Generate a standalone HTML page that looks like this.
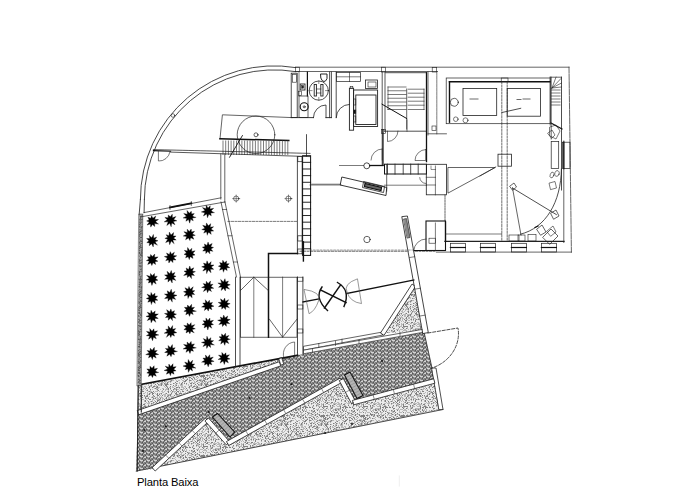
<!DOCTYPE html><html><head><meta charset="utf-8"><style>html,body{margin:0;padding:0;background:#fff;width:700px;height:500px;overflow:hidden}svg{display:block}.t{font-family:"Liberation Sans",sans-serif;font-size:11.2px;letter-spacing:-0.12px;fill:#000}</style></head><body>
<svg width="700" height="500" viewBox="0 0 700 500">
<defs><pattern id="stip" width="40" height="40" patternUnits="userSpaceOnUse"><rect width="40" height="40" fill="#ececec"/><rect x="0" y="0" width="1" height="1" fill="#b8b8b8"/><rect x="2" y="0" width="1" height="1" fill="#b8b8b8"/><rect x="5" y="0" width="1" height="1" fill="#808080"/><rect x="6" y="0" width="1" height="1" fill="#808080"/><rect x="8" y="0" width="1" height="1" fill="#b8b8b8"/><rect x="9" y="0" width="1" height="1" fill="#b8b8b8"/><rect x="11" y="0" width="1" height="1" fill="#b8b8b8"/><rect x="13" y="0" width="1" height="1" fill="#b8b8b8"/><rect x="15" y="0" width="1" height="1" fill="#808080"/><rect x="21" y="0" width="1" height="1" fill="#808080"/><rect x="24" y="0" width="1" height="1" fill="#b8b8b8"/><rect x="25" y="0" width="1" height="1" fill="#808080"/><rect x="27" y="0" width="1" height="1" fill="#b8b8b8"/><rect x="32" y="0" width="1" height="1" fill="#b8b8b8"/><rect x="34" y="0" width="1" height="1" fill="#b8b8b8"/><rect x="37" y="0" width="1" height="1" fill="#808080"/><rect x="38" y="0" width="1" height="1" fill="#808080"/><rect x="39" y="0" width="1" height="1" fill="#b8b8b8"/><rect x="1" y="1" width="1" height="1" fill="#b8b8b8"/><rect x="3" y="1" width="1" height="1" fill="#b8b8b8"/><rect x="5" y="1" width="1" height="1" fill="#b8b8b8"/><rect x="6" y="1" width="1" height="1" fill="#b8b8b8"/><rect x="15" y="1" width="1" height="1" fill="#808080"/><rect x="21" y="1" width="1" height="1" fill="#b8b8b8"/><rect x="24" y="1" width="1" height="1" fill="#b8b8b8"/><rect x="25" y="1" width="1" height="1" fill="#808080"/><rect x="28" y="1" width="1" height="1" fill="#808080"/><rect x="30" y="1" width="1" height="1" fill="#b8b8b8"/><rect x="31" y="1" width="1" height="1" fill="#808080"/><rect x="32" y="1" width="1" height="1" fill="#b8b8b8"/><rect x="35" y="1" width="1" height="1" fill="#808080"/><rect x="37" y="1" width="1" height="1" fill="#808080"/><rect x="39" y="1" width="1" height="1" fill="#b8b8b8"/><rect x="4" y="2" width="1" height="1" fill="#b8b8b8"/><rect x="5" y="2" width="1" height="1" fill="#808080"/><rect x="7" y="2" width="1" height="1" fill="#808080"/><rect x="8" y="2" width="1" height="1" fill="#b8b8b8"/><rect x="9" y="2" width="1" height="1" fill="#b8b8b8"/><rect x="11" y="2" width="1" height="1" fill="#808080"/><rect x="12" y="2" width="1" height="1" fill="#808080"/><rect x="14" y="2" width="1" height="1" fill="#b8b8b8"/><rect x="17" y="2" width="1" height="1" fill="#b8b8b8"/><rect x="18" y="2" width="1" height="1" fill="#b8b8b8"/><rect x="26" y="2" width="1" height="1" fill="#b8b8b8"/><rect x="28" y="2" width="1" height="1" fill="#b8b8b8"/><rect x="29" y="2" width="1" height="1" fill="#b8b8b8"/><rect x="33" y="2" width="1" height="1" fill="#808080"/><rect x="34" y="2" width="1" height="1" fill="#b8b8b8"/><rect x="36" y="2" width="1" height="1" fill="#808080"/><rect x="39" y="2" width="1" height="1" fill="#808080"/><rect x="1" y="3" width="1" height="1" fill="#b8b8b8"/><rect x="3" y="3" width="1" height="1" fill="#b8b8b8"/><rect x="6" y="3" width="1" height="1" fill="#808080"/><rect x="7" y="3" width="1" height="1" fill="#808080"/><rect x="10" y="3" width="1" height="1" fill="#b8b8b8"/><rect x="11" y="3" width="1" height="1" fill="#b8b8b8"/><rect x="13" y="3" width="1" height="1" fill="#b8b8b8"/><rect x="14" y="3" width="1" height="1" fill="#b8b8b8"/><rect x="15" y="3" width="1" height="1" fill="#b8b8b8"/><rect x="16" y="3" width="1" height="1" fill="#b8b8b8"/><rect x="18" y="3" width="1" height="1" fill="#b8b8b8"/><rect x="19" y="3" width="1" height="1" fill="#b8b8b8"/><rect x="21" y="3" width="1" height="1" fill="#808080"/><rect x="24" y="3" width="1" height="1" fill="#b8b8b8"/><rect x="25" y="3" width="1" height="1" fill="#b8b8b8"/><rect x="27" y="3" width="1" height="1" fill="#b8b8b8"/><rect x="28" y="3" width="1" height="1" fill="#b8b8b8"/><rect x="29" y="3" width="1" height="1" fill="#b8b8b8"/><rect x="31" y="3" width="1" height="1" fill="#808080"/><rect x="32" y="3" width="1" height="1" fill="#b8b8b8"/><rect x="33" y="3" width="1" height="1" fill="#b8b8b8"/><rect x="35" y="3" width="1" height="1" fill="#b8b8b8"/><rect x="37" y="3" width="1" height="1" fill="#808080"/><rect x="38" y="3" width="1" height="1" fill="#b8b8b8"/><rect x="1" y="4" width="1" height="1" fill="#b8b8b8"/><rect x="2" y="4" width="1" height="1" fill="#b8b8b8"/><rect x="3" y="4" width="1" height="1" fill="#808080"/><rect x="5" y="4" width="1" height="1" fill="#b8b8b8"/><rect x="8" y="4" width="1" height="1" fill="#b8b8b8"/><rect x="9" y="4" width="1" height="1" fill="#b8b8b8"/><rect x="13" y="4" width="1" height="1" fill="#b8b8b8"/><rect x="14" y="4" width="1" height="1" fill="#808080"/><rect x="15" y="4" width="1" height="1" fill="#b8b8b8"/><rect x="17" y="4" width="1" height="1" fill="#b8b8b8"/><rect x="18" y="4" width="1" height="1" fill="#b8b8b8"/><rect x="19" y="4" width="1" height="1" fill="#b8b8b8"/><rect x="20" y="4" width="1" height="1" fill="#b8b8b8"/><rect x="21" y="4" width="1" height="1" fill="#b8b8b8"/><rect x="23" y="4" width="1" height="1" fill="#808080"/><rect x="24" y="4" width="1" height="1" fill="#808080"/><rect x="28" y="4" width="1" height="1" fill="#b8b8b8"/><rect x="31" y="4" width="1" height="1" fill="#b8b8b8"/><rect x="36" y="4" width="1" height="1" fill="#b8b8b8"/><rect x="37" y="4" width="1" height="1" fill="#b8b8b8"/><rect x="38" y="4" width="1" height="1" fill="#b8b8b8"/><rect x="39" y="4" width="1" height="1" fill="#808080"/><rect x="1" y="5" width="1" height="1" fill="#b8b8b8"/><rect x="3" y="5" width="1" height="1" fill="#808080"/><rect x="10" y="5" width="1" height="1" fill="#808080"/><rect x="12" y="5" width="1" height="1" fill="#808080"/><rect x="13" y="5" width="1" height="1" fill="#b8b8b8"/><rect x="16" y="5" width="1" height="1" fill="#b8b8b8"/><rect x="19" y="5" width="1" height="1" fill="#b8b8b8"/><rect x="20" y="5" width="1" height="1" fill="#b8b8b8"/><rect x="22" y="5" width="1" height="1" fill="#b8b8b8"/><rect x="24" y="5" width="1" height="1" fill="#b8b8b8"/><rect x="25" y="5" width="1" height="1" fill="#b8b8b8"/><rect x="28" y="5" width="1" height="1" fill="#808080"/><rect x="33" y="5" width="1" height="1" fill="#808080"/><rect x="36" y="5" width="1" height="1" fill="#808080"/><rect x="37" y="5" width="1" height="1" fill="#b8b8b8"/><rect x="38" y="5" width="1" height="1" fill="#b8b8b8"/><rect x="0" y="6" width="1" height="1" fill="#b8b8b8"/><rect x="1" y="6" width="1" height="1" fill="#b8b8b8"/><rect x="3" y="6" width="1" height="1" fill="#808080"/><rect x="4" y="6" width="1" height="1" fill="#808080"/><rect x="5" y="6" width="1" height="1" fill="#808080"/><rect x="6" y="6" width="1" height="1" fill="#808080"/><rect x="7" y="6" width="1" height="1" fill="#808080"/><rect x="10" y="6" width="1" height="1" fill="#808080"/><rect x="12" y="6" width="1" height="1" fill="#b8b8b8"/><rect x="13" y="6" width="1" height="1" fill="#b8b8b8"/><rect x="14" y="6" width="1" height="1" fill="#b8b8b8"/><rect x="17" y="6" width="1" height="1" fill="#b8b8b8"/><rect x="18" y="6" width="1" height="1" fill="#b8b8b8"/><rect x="19" y="6" width="1" height="1" fill="#b8b8b8"/><rect x="20" y="6" width="1" height="1" fill="#808080"/><rect x="23" y="6" width="1" height="1" fill="#b8b8b8"/><rect x="24" y="6" width="1" height="1" fill="#808080"/><rect x="25" y="6" width="1" height="1" fill="#808080"/><rect x="26" y="6" width="1" height="1" fill="#b8b8b8"/><rect x="29" y="6" width="1" height="1" fill="#b8b8b8"/><rect x="32" y="6" width="1" height="1" fill="#b8b8b8"/><rect x="33" y="6" width="1" height="1" fill="#b8b8b8"/><rect x="36" y="6" width="1" height="1" fill="#b8b8b8"/><rect x="38" y="6" width="1" height="1" fill="#b8b8b8"/><rect x="39" y="6" width="1" height="1" fill="#b8b8b8"/><rect x="2" y="7" width="1" height="1" fill="#808080"/><rect x="3" y="7" width="1" height="1" fill="#b8b8b8"/><rect x="4" y="7" width="1" height="1" fill="#b8b8b8"/><rect x="7" y="7" width="1" height="1" fill="#b8b8b8"/><rect x="10" y="7" width="1" height="1" fill="#b8b8b8"/><rect x="11" y="7" width="1" height="1" fill="#b8b8b8"/><rect x="12" y="7" width="1" height="1" fill="#808080"/><rect x="20" y="7" width="1" height="1" fill="#808080"/><rect x="22" y="7" width="1" height="1" fill="#808080"/><rect x="23" y="7" width="1" height="1" fill="#808080"/><rect x="25" y="7" width="1" height="1" fill="#808080"/><rect x="26" y="7" width="1" height="1" fill="#808080"/><rect x="27" y="7" width="1" height="1" fill="#808080"/><rect x="29" y="7" width="1" height="1" fill="#808080"/><rect x="30" y="7" width="1" height="1" fill="#808080"/><rect x="32" y="7" width="1" height="1" fill="#808080"/><rect x="39" y="7" width="1" height="1" fill="#808080"/><rect x="3" y="8" width="1" height="1" fill="#808080"/><rect x="6" y="8" width="1" height="1" fill="#808080"/><rect x="7" y="8" width="1" height="1" fill="#b8b8b8"/><rect x="10" y="8" width="1" height="1" fill="#b8b8b8"/><rect x="11" y="8" width="1" height="1" fill="#808080"/><rect x="12" y="8" width="1" height="1" fill="#b8b8b8"/><rect x="15" y="8" width="1" height="1" fill="#b8b8b8"/><rect x="16" y="8" width="1" height="1" fill="#b8b8b8"/><rect x="17" y="8" width="1" height="1" fill="#b8b8b8"/><rect x="18" y="8" width="1" height="1" fill="#b8b8b8"/><rect x="19" y="8" width="1" height="1" fill="#b8b8b8"/><rect x="20" y="8" width="1" height="1" fill="#808080"/><rect x="23" y="8" width="1" height="1" fill="#b8b8b8"/><rect x="25" y="8" width="1" height="1" fill="#808080"/><rect x="33" y="8" width="1" height="1" fill="#808080"/><rect x="34" y="8" width="1" height="1" fill="#808080"/><rect x="38" y="8" width="1" height="1" fill="#b8b8b8"/><rect x="0" y="9" width="1" height="1" fill="#b8b8b8"/><rect x="1" y="9" width="1" height="1" fill="#b8b8b8"/><rect x="2" y="9" width="1" height="1" fill="#b8b8b8"/><rect x="4" y="9" width="1" height="1" fill="#b8b8b8"/><rect x="5" y="9" width="1" height="1" fill="#b8b8b8"/><rect x="8" y="9" width="1" height="1" fill="#b8b8b8"/><rect x="10" y="9" width="1" height="1" fill="#b8b8b8"/><rect x="13" y="9" width="1" height="1" fill="#b8b8b8"/><rect x="14" y="9" width="1" height="1" fill="#b8b8b8"/><rect x="15" y="9" width="1" height="1" fill="#808080"/><rect x="16" y="9" width="1" height="1" fill="#b8b8b8"/><rect x="17" y="9" width="1" height="1" fill="#b8b8b8"/><rect x="18" y="9" width="1" height="1" fill="#808080"/><rect x="19" y="9" width="1" height="1" fill="#b8b8b8"/><rect x="20" y="9" width="1" height="1" fill="#b8b8b8"/><rect x="22" y="9" width="1" height="1" fill="#808080"/><rect x="24" y="9" width="1" height="1" fill="#b8b8b8"/><rect x="26" y="9" width="1" height="1" fill="#b8b8b8"/><rect x="33" y="9" width="1" height="1" fill="#b8b8b8"/><rect x="36" y="9" width="1" height="1" fill="#b8b8b8"/><rect x="37" y="9" width="1" height="1" fill="#b8b8b8"/><rect x="38" y="9" width="1" height="1" fill="#b8b8b8"/><rect x="3" y="10" width="1" height="1" fill="#b8b8b8"/><rect x="4" y="10" width="1" height="1" fill="#b8b8b8"/><rect x="5" y="10" width="1" height="1" fill="#b8b8b8"/><rect x="6" y="10" width="1" height="1" fill="#b8b8b8"/><rect x="10" y="10" width="1" height="1" fill="#b8b8b8"/><rect x="12" y="10" width="1" height="1" fill="#b8b8b8"/><rect x="13" y="10" width="1" height="1" fill="#b8b8b8"/><rect x="15" y="10" width="1" height="1" fill="#808080"/><rect x="16" y="10" width="1" height="1" fill="#808080"/><rect x="18" y="10" width="1" height="1" fill="#b8b8b8"/><rect x="19" y="10" width="1" height="1" fill="#b8b8b8"/><rect x="22" y="10" width="1" height="1" fill="#808080"/><rect x="23" y="10" width="1" height="1" fill="#b8b8b8"/><rect x="24" y="10" width="1" height="1" fill="#b8b8b8"/><rect x="26" y="10" width="1" height="1" fill="#b8b8b8"/><rect x="29" y="10" width="1" height="1" fill="#b8b8b8"/><rect x="31" y="10" width="1" height="1" fill="#808080"/><rect x="32" y="10" width="1" height="1" fill="#b8b8b8"/><rect x="34" y="10" width="1" height="1" fill="#808080"/><rect x="37" y="10" width="1" height="1" fill="#808080"/><rect x="39" y="10" width="1" height="1" fill="#b8b8b8"/><rect x="2" y="11" width="1" height="1" fill="#b8b8b8"/><rect x="6" y="11" width="1" height="1" fill="#b8b8b8"/><rect x="11" y="11" width="1" height="1" fill="#808080"/><rect x="13" y="11" width="1" height="1" fill="#b8b8b8"/><rect x="17" y="11" width="1" height="1" fill="#b8b8b8"/><rect x="20" y="11" width="1" height="1" fill="#808080"/><rect x="23" y="11" width="1" height="1" fill="#808080"/><rect x="25" y="11" width="1" height="1" fill="#808080"/><rect x="26" y="11" width="1" height="1" fill="#b8b8b8"/><rect x="31" y="11" width="1" height="1" fill="#b8b8b8"/><rect x="32" y="11" width="1" height="1" fill="#b8b8b8"/><rect x="33" y="11" width="1" height="1" fill="#808080"/><rect x="34" y="11" width="1" height="1" fill="#808080"/><rect x="39" y="11" width="1" height="1" fill="#b8b8b8"/><rect x="0" y="12" width="1" height="1" fill="#b8b8b8"/><rect x="1" y="12" width="1" height="1" fill="#b8b8b8"/><rect x="3" y="12" width="1" height="1" fill="#808080"/><rect x="5" y="12" width="1" height="1" fill="#b8b8b8"/><rect x="7" y="12" width="1" height="1" fill="#b8b8b8"/><rect x="8" y="12" width="1" height="1" fill="#b8b8b8"/><rect x="9" y="12" width="1" height="1" fill="#b8b8b8"/><rect x="12" y="12" width="1" height="1" fill="#b8b8b8"/><rect x="14" y="12" width="1" height="1" fill="#808080"/><rect x="15" y="12" width="1" height="1" fill="#b8b8b8"/><rect x="16" y="12" width="1" height="1" fill="#808080"/><rect x="17" y="12" width="1" height="1" fill="#808080"/><rect x="20" y="12" width="1" height="1" fill="#b8b8b8"/><rect x="21" y="12" width="1" height="1" fill="#b8b8b8"/><rect x="22" y="12" width="1" height="1" fill="#b8b8b8"/><rect x="27" y="12" width="1" height="1" fill="#808080"/><rect x="28" y="12" width="1" height="1" fill="#b8b8b8"/><rect x="29" y="12" width="1" height="1" fill="#b8b8b8"/><rect x="32" y="12" width="1" height="1" fill="#b8b8b8"/><rect x="33" y="12" width="1" height="1" fill="#b8b8b8"/><rect x="35" y="12" width="1" height="1" fill="#808080"/><rect x="39" y="12" width="1" height="1" fill="#b8b8b8"/><rect x="5" y="13" width="1" height="1" fill="#b8b8b8"/><rect x="10" y="13" width="1" height="1" fill="#808080"/><rect x="15" y="13" width="1" height="1" fill="#b8b8b8"/><rect x="16" y="13" width="1" height="1" fill="#b8b8b8"/><rect x="18" y="13" width="1" height="1" fill="#808080"/><rect x="21" y="13" width="1" height="1" fill="#b8b8b8"/><rect x="25" y="13" width="1" height="1" fill="#808080"/><rect x="28" y="13" width="1" height="1" fill="#808080"/><rect x="29" y="13" width="1" height="1" fill="#b8b8b8"/><rect x="30" y="13" width="1" height="1" fill="#b8b8b8"/><rect x="31" y="13" width="1" height="1" fill="#808080"/><rect x="34" y="13" width="1" height="1" fill="#b8b8b8"/><rect x="37" y="13" width="1" height="1" fill="#808080"/><rect x="3" y="14" width="1" height="1" fill="#b8b8b8"/><rect x="7" y="14" width="1" height="1" fill="#b8b8b8"/><rect x="10" y="14" width="1" height="1" fill="#808080"/><rect x="11" y="14" width="1" height="1" fill="#808080"/><rect x="12" y="14" width="1" height="1" fill="#808080"/><rect x="13" y="14" width="1" height="1" fill="#b8b8b8"/><rect x="14" y="14" width="1" height="1" fill="#808080"/><rect x="18" y="14" width="1" height="1" fill="#b8b8b8"/><rect x="20" y="14" width="1" height="1" fill="#b8b8b8"/><rect x="21" y="14" width="1" height="1" fill="#b8b8b8"/><rect x="23" y="14" width="1" height="1" fill="#b8b8b8"/><rect x="24" y="14" width="1" height="1" fill="#b8b8b8"/><rect x="27" y="14" width="1" height="1" fill="#b8b8b8"/><rect x="28" y="14" width="1" height="1" fill="#b8b8b8"/><rect x="31" y="14" width="1" height="1" fill="#b8b8b8"/><rect x="32" y="14" width="1" height="1" fill="#808080"/><rect x="33" y="14" width="1" height="1" fill="#b8b8b8"/><rect x="35" y="14" width="1" height="1" fill="#808080"/><rect x="36" y="14" width="1" height="1" fill="#b8b8b8"/><rect x="37" y="14" width="1" height="1" fill="#b8b8b8"/><rect x="38" y="14" width="1" height="1" fill="#b8b8b8"/><rect x="39" y="14" width="1" height="1" fill="#808080"/><rect x="0" y="15" width="1" height="1" fill="#b8b8b8"/><rect x="1" y="15" width="1" height="1" fill="#808080"/><rect x="2" y="15" width="1" height="1" fill="#808080"/><rect x="3" y="15" width="1" height="1" fill="#808080"/><rect x="4" y="15" width="1" height="1" fill="#808080"/><rect x="6" y="15" width="1" height="1" fill="#808080"/><rect x="7" y="15" width="1" height="1" fill="#808080"/><rect x="8" y="15" width="1" height="1" fill="#b8b8b8"/><rect x="9" y="15" width="1" height="1" fill="#b8b8b8"/><rect x="11" y="15" width="1" height="1" fill="#808080"/><rect x="12" y="15" width="1" height="1" fill="#b8b8b8"/><rect x="13" y="15" width="1" height="1" fill="#b8b8b8"/><rect x="14" y="15" width="1" height="1" fill="#808080"/><rect x="16" y="15" width="1" height="1" fill="#b8b8b8"/><rect x="17" y="15" width="1" height="1" fill="#808080"/><rect x="18" y="15" width="1" height="1" fill="#b8b8b8"/><rect x="19" y="15" width="1" height="1" fill="#808080"/><rect x="21" y="15" width="1" height="1" fill="#b8b8b8"/><rect x="22" y="15" width="1" height="1" fill="#808080"/><rect x="23" y="15" width="1" height="1" fill="#808080"/><rect x="25" y="15" width="1" height="1" fill="#b8b8b8"/><rect x="27" y="15" width="1" height="1" fill="#b8b8b8"/><rect x="29" y="15" width="1" height="1" fill="#b8b8b8"/><rect x="30" y="15" width="1" height="1" fill="#b8b8b8"/><rect x="31" y="15" width="1" height="1" fill="#b8b8b8"/><rect x="34" y="15" width="1" height="1" fill="#b8b8b8"/><rect x="35" y="15" width="1" height="1" fill="#808080"/><rect x="39" y="15" width="1" height="1" fill="#808080"/><rect x="0" y="16" width="1" height="1" fill="#808080"/><rect x="1" y="16" width="1" height="1" fill="#808080"/><rect x="2" y="16" width="1" height="1" fill="#808080"/><rect x="3" y="16" width="1" height="1" fill="#808080"/><rect x="4" y="16" width="1" height="1" fill="#808080"/><rect x="7" y="16" width="1" height="1" fill="#b8b8b8"/><rect x="9" y="16" width="1" height="1" fill="#b8b8b8"/><rect x="13" y="16" width="1" height="1" fill="#808080"/><rect x="14" y="16" width="1" height="1" fill="#b8b8b8"/><rect x="17" y="16" width="1" height="1" fill="#808080"/><rect x="18" y="16" width="1" height="1" fill="#b8b8b8"/><rect x="20" y="16" width="1" height="1" fill="#808080"/><rect x="21" y="16" width="1" height="1" fill="#b8b8b8"/><rect x="22" y="16" width="1" height="1" fill="#b8b8b8"/><rect x="25" y="16" width="1" height="1" fill="#808080"/><rect x="31" y="16" width="1" height="1" fill="#b8b8b8"/><rect x="32" y="16" width="1" height="1" fill="#b8b8b8"/><rect x="33" y="16" width="1" height="1" fill="#b8b8b8"/><rect x="36" y="16" width="1" height="1" fill="#b8b8b8"/><rect x="37" y="16" width="1" height="1" fill="#808080"/><rect x="1" y="17" width="1" height="1" fill="#b8b8b8"/><rect x="3" y="17" width="1" height="1" fill="#808080"/><rect x="5" y="17" width="1" height="1" fill="#808080"/><rect x="6" y="17" width="1" height="1" fill="#b8b8b8"/><rect x="9" y="17" width="1" height="1" fill="#808080"/><rect x="10" y="17" width="1" height="1" fill="#b8b8b8"/><rect x="15" y="17" width="1" height="1" fill="#b8b8b8"/><rect x="18" y="17" width="1" height="1" fill="#b8b8b8"/><rect x="19" y="17" width="1" height="1" fill="#b8b8b8"/><rect x="20" y="17" width="1" height="1" fill="#808080"/><rect x="21" y="17" width="1" height="1" fill="#b8b8b8"/><rect x="23" y="17" width="1" height="1" fill="#808080"/><rect x="25" y="17" width="1" height="1" fill="#808080"/><rect x="26" y="17" width="1" height="1" fill="#808080"/><rect x="28" y="17" width="1" height="1" fill="#b8b8b8"/><rect x="29" y="17" width="1" height="1" fill="#808080"/><rect x="30" y="17" width="1" height="1" fill="#808080"/><rect x="33" y="17" width="1" height="1" fill="#808080"/><rect x="34" y="17" width="1" height="1" fill="#b8b8b8"/><rect x="36" y="17" width="1" height="1" fill="#b8b8b8"/><rect x="38" y="17" width="1" height="1" fill="#b8b8b8"/><rect x="3" y="18" width="1" height="1" fill="#b8b8b8"/><rect x="4" y="18" width="1" height="1" fill="#808080"/><rect x="5" y="18" width="1" height="1" fill="#808080"/><rect x="7" y="18" width="1" height="1" fill="#808080"/><rect x="8" y="18" width="1" height="1" fill="#808080"/><rect x="10" y="18" width="1" height="1" fill="#b8b8b8"/><rect x="12" y="18" width="1" height="1" fill="#808080"/><rect x="13" y="18" width="1" height="1" fill="#b8b8b8"/><rect x="14" y="18" width="1" height="1" fill="#b8b8b8"/><rect x="20" y="18" width="1" height="1" fill="#b8b8b8"/><rect x="22" y="18" width="1" height="1" fill="#b8b8b8"/><rect x="23" y="18" width="1" height="1" fill="#808080"/><rect x="27" y="18" width="1" height="1" fill="#b8b8b8"/><rect x="29" y="18" width="1" height="1" fill="#b8b8b8"/><rect x="31" y="18" width="1" height="1" fill="#808080"/><rect x="32" y="18" width="1" height="1" fill="#b8b8b8"/><rect x="34" y="18" width="1" height="1" fill="#808080"/><rect x="37" y="18" width="1" height="1" fill="#b8b8b8"/><rect x="0" y="19" width="1" height="1" fill="#b8b8b8"/><rect x="1" y="19" width="1" height="1" fill="#b8b8b8"/><rect x="3" y="19" width="1" height="1" fill="#b8b8b8"/><rect x="4" y="19" width="1" height="1" fill="#b8b8b8"/><rect x="5" y="19" width="1" height="1" fill="#808080"/><rect x="6" y="19" width="1" height="1" fill="#b8b8b8"/><rect x="7" y="19" width="1" height="1" fill="#808080"/><rect x="15" y="19" width="1" height="1" fill="#b8b8b8"/><rect x="21" y="19" width="1" height="1" fill="#b8b8b8"/><rect x="24" y="19" width="1" height="1" fill="#b8b8b8"/><rect x="26" y="19" width="1" height="1" fill="#b8b8b8"/><rect x="27" y="19" width="1" height="1" fill="#808080"/><rect x="29" y="19" width="1" height="1" fill="#b8b8b8"/><rect x="32" y="19" width="1" height="1" fill="#808080"/><rect x="34" y="19" width="1" height="1" fill="#b8b8b8"/><rect x="35" y="19" width="1" height="1" fill="#b8b8b8"/><rect x="36" y="19" width="1" height="1" fill="#b8b8b8"/><rect x="39" y="19" width="1" height="1" fill="#b8b8b8"/><rect x="0" y="20" width="1" height="1" fill="#808080"/><rect x="1" y="20" width="1" height="1" fill="#b8b8b8"/><rect x="2" y="20" width="1" height="1" fill="#b8b8b8"/><rect x="3" y="20" width="1" height="1" fill="#808080"/><rect x="4" y="20" width="1" height="1" fill="#808080"/><rect x="10" y="20" width="1" height="1" fill="#b8b8b8"/><rect x="11" y="20" width="1" height="1" fill="#808080"/><rect x="12" y="20" width="1" height="1" fill="#b8b8b8"/><rect x="13" y="20" width="1" height="1" fill="#b8b8b8"/><rect x="16" y="20" width="1" height="1" fill="#b8b8b8"/><rect x="18" y="20" width="1" height="1" fill="#b8b8b8"/><rect x="19" y="20" width="1" height="1" fill="#b8b8b8"/><rect x="22" y="20" width="1" height="1" fill="#b8b8b8"/><rect x="23" y="20" width="1" height="1" fill="#b8b8b8"/><rect x="25" y="20" width="1" height="1" fill="#808080"/><rect x="26" y="20" width="1" height="1" fill="#808080"/><rect x="29" y="20" width="1" height="1" fill="#808080"/><rect x="30" y="20" width="1" height="1" fill="#808080"/><rect x="31" y="20" width="1" height="1" fill="#b8b8b8"/><rect x="33" y="20" width="1" height="1" fill="#b8b8b8"/><rect x="37" y="20" width="1" height="1" fill="#808080"/><rect x="38" y="20" width="1" height="1" fill="#b8b8b8"/><rect x="39" y="20" width="1" height="1" fill="#808080"/><rect x="0" y="21" width="1" height="1" fill="#b8b8b8"/><rect x="1" y="21" width="1" height="1" fill="#b8b8b8"/><rect x="2" y="21" width="1" height="1" fill="#808080"/><rect x="4" y="21" width="1" height="1" fill="#808080"/><rect x="5" y="21" width="1" height="1" fill="#b8b8b8"/><rect x="6" y="21" width="1" height="1" fill="#b8b8b8"/><rect x="8" y="21" width="1" height="1" fill="#b8b8b8"/><rect x="9" y="21" width="1" height="1" fill="#b8b8b8"/><rect x="10" y="21" width="1" height="1" fill="#808080"/><rect x="11" y="21" width="1" height="1" fill="#b8b8b8"/><rect x="16" y="21" width="1" height="1" fill="#b8b8b8"/><rect x="17" y="21" width="1" height="1" fill="#808080"/><rect x="23" y="21" width="1" height="1" fill="#b8b8b8"/><rect x="24" y="21" width="1" height="1" fill="#808080"/><rect x="25" y="21" width="1" height="1" fill="#808080"/><rect x="29" y="21" width="1" height="1" fill="#b8b8b8"/><rect x="34" y="21" width="1" height="1" fill="#b8b8b8"/><rect x="36" y="21" width="1" height="1" fill="#808080"/><rect x="37" y="21" width="1" height="1" fill="#b8b8b8"/><rect x="1" y="22" width="1" height="1" fill="#b8b8b8"/><rect x="2" y="22" width="1" height="1" fill="#b8b8b8"/><rect x="3" y="22" width="1" height="1" fill="#b8b8b8"/><rect x="5" y="22" width="1" height="1" fill="#b8b8b8"/><rect x="7" y="22" width="1" height="1" fill="#808080"/><rect x="8" y="22" width="1" height="1" fill="#b8b8b8"/><rect x="10" y="22" width="1" height="1" fill="#b8b8b8"/><rect x="15" y="22" width="1" height="1" fill="#808080"/><rect x="19" y="22" width="1" height="1" fill="#b8b8b8"/><rect x="22" y="22" width="1" height="1" fill="#808080"/><rect x="24" y="22" width="1" height="1" fill="#b8b8b8"/><rect x="29" y="22" width="1" height="1" fill="#b8b8b8"/><rect x="31" y="22" width="1" height="1" fill="#b8b8b8"/><rect x="32" y="22" width="1" height="1" fill="#b8b8b8"/><rect x="34" y="22" width="1" height="1" fill="#b8b8b8"/><rect x="35" y="22" width="1" height="1" fill="#b8b8b8"/><rect x="38" y="22" width="1" height="1" fill="#b8b8b8"/><rect x="39" y="22" width="1" height="1" fill="#b8b8b8"/><rect x="0" y="23" width="1" height="1" fill="#b8b8b8"/><rect x="1" y="23" width="1" height="1" fill="#808080"/><rect x="2" y="23" width="1" height="1" fill="#b8b8b8"/><rect x="4" y="23" width="1" height="1" fill="#808080"/><rect x="5" y="23" width="1" height="1" fill="#b8b8b8"/><rect x="6" y="23" width="1" height="1" fill="#b8b8b8"/><rect x="7" y="23" width="1" height="1" fill="#808080"/><rect x="13" y="23" width="1" height="1" fill="#808080"/><rect x="14" y="23" width="1" height="1" fill="#b8b8b8"/><rect x="16" y="23" width="1" height="1" fill="#808080"/><rect x="17" y="23" width="1" height="1" fill="#b8b8b8"/><rect x="19" y="23" width="1" height="1" fill="#b8b8b8"/><rect x="21" y="23" width="1" height="1" fill="#808080"/><rect x="22" y="23" width="1" height="1" fill="#b8b8b8"/><rect x="24" y="23" width="1" height="1" fill="#808080"/><rect x="26" y="23" width="1" height="1" fill="#808080"/><rect x="30" y="23" width="1" height="1" fill="#808080"/><rect x="31" y="23" width="1" height="1" fill="#808080"/><rect x="33" y="23" width="1" height="1" fill="#808080"/><rect x="34" y="23" width="1" height="1" fill="#b8b8b8"/><rect x="37" y="23" width="1" height="1" fill="#808080"/><rect x="0" y="24" width="1" height="1" fill="#b8b8b8"/><rect x="1" y="24" width="1" height="1" fill="#808080"/><rect x="2" y="24" width="1" height="1" fill="#b8b8b8"/><rect x="4" y="24" width="1" height="1" fill="#b8b8b8"/><rect x="5" y="24" width="1" height="1" fill="#808080"/><rect x="6" y="24" width="1" height="1" fill="#808080"/><rect x="7" y="24" width="1" height="1" fill="#808080"/><rect x="8" y="24" width="1" height="1" fill="#b8b8b8"/><rect x="10" y="24" width="1" height="1" fill="#808080"/><rect x="11" y="24" width="1" height="1" fill="#b8b8b8"/><rect x="15" y="24" width="1" height="1" fill="#b8b8b8"/><rect x="16" y="24" width="1" height="1" fill="#b8b8b8"/><rect x="20" y="24" width="1" height="1" fill="#b8b8b8"/><rect x="21" y="24" width="1" height="1" fill="#808080"/><rect x="22" y="24" width="1" height="1" fill="#b8b8b8"/><rect x="26" y="24" width="1" height="1" fill="#b8b8b8"/><rect x="28" y="24" width="1" height="1" fill="#b8b8b8"/><rect x="31" y="24" width="1" height="1" fill="#b8b8b8"/><rect x="35" y="24" width="1" height="1" fill="#808080"/><rect x="38" y="24" width="1" height="1" fill="#808080"/><rect x="39" y="24" width="1" height="1" fill="#b8b8b8"/><rect x="0" y="25" width="1" height="1" fill="#b8b8b8"/><rect x="1" y="25" width="1" height="1" fill="#808080"/><rect x="3" y="25" width="1" height="1" fill="#b8b8b8"/><rect x="5" y="25" width="1" height="1" fill="#808080"/><rect x="6" y="25" width="1" height="1" fill="#808080"/><rect x="13" y="25" width="1" height="1" fill="#808080"/><rect x="15" y="25" width="1" height="1" fill="#b8b8b8"/><rect x="16" y="25" width="1" height="1" fill="#808080"/><rect x="18" y="25" width="1" height="1" fill="#b8b8b8"/><rect x="20" y="25" width="1" height="1" fill="#b8b8b8"/><rect x="21" y="25" width="1" height="1" fill="#b8b8b8"/><rect x="22" y="25" width="1" height="1" fill="#b8b8b8"/><rect x="28" y="25" width="1" height="1" fill="#b8b8b8"/><rect x="30" y="25" width="1" height="1" fill="#b8b8b8"/><rect x="31" y="25" width="1" height="1" fill="#808080"/><rect x="34" y="25" width="1" height="1" fill="#b8b8b8"/><rect x="36" y="25" width="1" height="1" fill="#b8b8b8"/><rect x="38" y="25" width="1" height="1" fill="#b8b8b8"/><rect x="39" y="25" width="1" height="1" fill="#b8b8b8"/><rect x="4" y="26" width="1" height="1" fill="#b8b8b8"/><rect x="6" y="26" width="1" height="1" fill="#808080"/><rect x="7" y="26" width="1" height="1" fill="#b8b8b8"/><rect x="10" y="26" width="1" height="1" fill="#808080"/><rect x="12" y="26" width="1" height="1" fill="#b8b8b8"/><rect x="14" y="26" width="1" height="1" fill="#b8b8b8"/><rect x="15" y="26" width="1" height="1" fill="#b8b8b8"/><rect x="18" y="26" width="1" height="1" fill="#b8b8b8"/><rect x="21" y="26" width="1" height="1" fill="#b8b8b8"/><rect x="22" y="26" width="1" height="1" fill="#b8b8b8"/><rect x="24" y="26" width="1" height="1" fill="#b8b8b8"/><rect x="25" y="26" width="1" height="1" fill="#b8b8b8"/><rect x="29" y="26" width="1" height="1" fill="#808080"/><rect x="30" y="26" width="1" height="1" fill="#b8b8b8"/><rect x="31" y="26" width="1" height="1" fill="#b8b8b8"/><rect x="33" y="26" width="1" height="1" fill="#808080"/><rect x="34" y="26" width="1" height="1" fill="#808080"/><rect x="35" y="26" width="1" height="1" fill="#b8b8b8"/><rect x="36" y="26" width="1" height="1" fill="#b8b8b8"/><rect x="37" y="26" width="1" height="1" fill="#808080"/><rect x="5" y="27" width="1" height="1" fill="#b8b8b8"/><rect x="7" y="27" width="1" height="1" fill="#808080"/><rect x="9" y="27" width="1" height="1" fill="#b8b8b8"/><rect x="10" y="27" width="1" height="1" fill="#b8b8b8"/><rect x="12" y="27" width="1" height="1" fill="#b8b8b8"/><rect x="13" y="27" width="1" height="1" fill="#b8b8b8"/><rect x="16" y="27" width="1" height="1" fill="#808080"/><rect x="17" y="27" width="1" height="1" fill="#808080"/><rect x="18" y="27" width="1" height="1" fill="#b8b8b8"/><rect x="19" y="27" width="1" height="1" fill="#808080"/><rect x="21" y="27" width="1" height="1" fill="#b8b8b8"/><rect x="22" y="27" width="1" height="1" fill="#b8b8b8"/><rect x="23" y="27" width="1" height="1" fill="#b8b8b8"/><rect x="25" y="27" width="1" height="1" fill="#b8b8b8"/><rect x="28" y="27" width="1" height="1" fill="#b8b8b8"/><rect x="29" y="27" width="1" height="1" fill="#808080"/><rect x="32" y="27" width="1" height="1" fill="#808080"/><rect x="33" y="27" width="1" height="1" fill="#b8b8b8"/><rect x="36" y="27" width="1" height="1" fill="#808080"/><rect x="37" y="27" width="1" height="1" fill="#808080"/><rect x="38" y="27" width="1" height="1" fill="#b8b8b8"/><rect x="39" y="27" width="1" height="1" fill="#b8b8b8"/><rect x="2" y="28" width="1" height="1" fill="#b8b8b8"/><rect x="3" y="28" width="1" height="1" fill="#b8b8b8"/><rect x="6" y="28" width="1" height="1" fill="#b8b8b8"/><rect x="7" y="28" width="1" height="1" fill="#b8b8b8"/><rect x="8" y="28" width="1" height="1" fill="#808080"/><rect x="10" y="28" width="1" height="1" fill="#808080"/><rect x="14" y="28" width="1" height="1" fill="#808080"/><rect x="15" y="28" width="1" height="1" fill="#b8b8b8"/><rect x="16" y="28" width="1" height="1" fill="#b8b8b8"/><rect x="19" y="28" width="1" height="1" fill="#b8b8b8"/><rect x="23" y="28" width="1" height="1" fill="#b8b8b8"/><rect x="24" y="28" width="1" height="1" fill="#b8b8b8"/><rect x="26" y="28" width="1" height="1" fill="#808080"/><rect x="29" y="28" width="1" height="1" fill="#b8b8b8"/><rect x="34" y="28" width="1" height="1" fill="#b8b8b8"/><rect x="35" y="28" width="1" height="1" fill="#808080"/><rect x="36" y="28" width="1" height="1" fill="#b8b8b8"/><rect x="37" y="28" width="1" height="1" fill="#b8b8b8"/><rect x="38" y="28" width="1" height="1" fill="#b8b8b8"/><rect x="0" y="29" width="1" height="1" fill="#b8b8b8"/><rect x="3" y="29" width="1" height="1" fill="#808080"/><rect x="5" y="29" width="1" height="1" fill="#b8b8b8"/><rect x="6" y="29" width="1" height="1" fill="#b8b8b8"/><rect x="7" y="29" width="1" height="1" fill="#b8b8b8"/><rect x="8" y="29" width="1" height="1" fill="#808080"/><rect x="10" y="29" width="1" height="1" fill="#b8b8b8"/><rect x="13" y="29" width="1" height="1" fill="#808080"/><rect x="14" y="29" width="1" height="1" fill="#b8b8b8"/><rect x="15" y="29" width="1" height="1" fill="#b8b8b8"/><rect x="16" y="29" width="1" height="1" fill="#808080"/><rect x="17" y="29" width="1" height="1" fill="#b8b8b8"/><rect x="18" y="29" width="1" height="1" fill="#b8b8b8"/><rect x="20" y="29" width="1" height="1" fill="#b8b8b8"/><rect x="21" y="29" width="1" height="1" fill="#808080"/><rect x="22" y="29" width="1" height="1" fill="#b8b8b8"/><rect x="23" y="29" width="1" height="1" fill="#b8b8b8"/><rect x="25" y="29" width="1" height="1" fill="#b8b8b8"/><rect x="27" y="29" width="1" height="1" fill="#b8b8b8"/><rect x="30" y="29" width="1" height="1" fill="#808080"/><rect x="32" y="29" width="1" height="1" fill="#b8b8b8"/><rect x="36" y="29" width="1" height="1" fill="#b8b8b8"/><rect x="37" y="29" width="1" height="1" fill="#808080"/><rect x="2" y="30" width="1" height="1" fill="#b8b8b8"/><rect x="5" y="30" width="1" height="1" fill="#b8b8b8"/><rect x="8" y="30" width="1" height="1" fill="#b8b8b8"/><rect x="11" y="30" width="1" height="1" fill="#808080"/><rect x="13" y="30" width="1" height="1" fill="#b8b8b8"/><rect x="16" y="30" width="1" height="1" fill="#808080"/><rect x="19" y="30" width="1" height="1" fill="#b8b8b8"/><rect x="22" y="30" width="1" height="1" fill="#b8b8b8"/><rect x="26" y="30" width="1" height="1" fill="#b8b8b8"/><rect x="27" y="30" width="1" height="1" fill="#808080"/><rect x="30" y="30" width="1" height="1" fill="#b8b8b8"/><rect x="37" y="30" width="1" height="1" fill="#b8b8b8"/><rect x="38" y="30" width="1" height="1" fill="#808080"/><rect x="1" y="31" width="1" height="1" fill="#b8b8b8"/><rect x="2" y="31" width="1" height="1" fill="#b8b8b8"/><rect x="4" y="31" width="1" height="1" fill="#b8b8b8"/><rect x="7" y="31" width="1" height="1" fill="#b8b8b8"/><rect x="8" y="31" width="1" height="1" fill="#808080"/><rect x="10" y="31" width="1" height="1" fill="#b8b8b8"/><rect x="12" y="31" width="1" height="1" fill="#808080"/><rect x="13" y="31" width="1" height="1" fill="#b8b8b8"/><rect x="14" y="31" width="1" height="1" fill="#b8b8b8"/><rect x="15" y="31" width="1" height="1" fill="#b8b8b8"/><rect x="17" y="31" width="1" height="1" fill="#808080"/><rect x="18" y="31" width="1" height="1" fill="#808080"/><rect x="20" y="31" width="1" height="1" fill="#b8b8b8"/><rect x="22" y="31" width="1" height="1" fill="#808080"/><rect x="23" y="31" width="1" height="1" fill="#808080"/><rect x="28" y="31" width="1" height="1" fill="#b8b8b8"/><rect x="29" y="31" width="1" height="1" fill="#808080"/><rect x="30" y="31" width="1" height="1" fill="#b8b8b8"/><rect x="31" y="31" width="1" height="1" fill="#b8b8b8"/><rect x="33" y="31" width="1" height="1" fill="#808080"/><rect x="35" y="31" width="1" height="1" fill="#b8b8b8"/><rect x="36" y="31" width="1" height="1" fill="#b8b8b8"/><rect x="37" y="31" width="1" height="1" fill="#b8b8b8"/><rect x="39" y="31" width="1" height="1" fill="#b8b8b8"/><rect x="2" y="32" width="1" height="1" fill="#b8b8b8"/><rect x="3" y="32" width="1" height="1" fill="#b8b8b8"/><rect x="8" y="32" width="1" height="1" fill="#808080"/><rect x="11" y="32" width="1" height="1" fill="#b8b8b8"/><rect x="12" y="32" width="1" height="1" fill="#b8b8b8"/><rect x="14" y="32" width="1" height="1" fill="#b8b8b8"/><rect x="16" y="32" width="1" height="1" fill="#808080"/><rect x="18" y="32" width="1" height="1" fill="#b8b8b8"/><rect x="20" y="32" width="1" height="1" fill="#b8b8b8"/><rect x="25" y="32" width="1" height="1" fill="#b8b8b8"/><rect x="27" y="32" width="1" height="1" fill="#b8b8b8"/><rect x="30" y="32" width="1" height="1" fill="#b8b8b8"/><rect x="31" y="32" width="1" height="1" fill="#808080"/><rect x="32" y="32" width="1" height="1" fill="#808080"/><rect x="34" y="32" width="1" height="1" fill="#b8b8b8"/><rect x="0" y="33" width="1" height="1" fill="#b8b8b8"/><rect x="1" y="33" width="1" height="1" fill="#808080"/><rect x="5" y="33" width="1" height="1" fill="#b8b8b8"/><rect x="6" y="33" width="1" height="1" fill="#808080"/><rect x="11" y="33" width="1" height="1" fill="#808080"/><rect x="15" y="33" width="1" height="1" fill="#808080"/><rect x="16" y="33" width="1" height="1" fill="#808080"/><rect x="19" y="33" width="1" height="1" fill="#808080"/><rect x="20" y="33" width="1" height="1" fill="#808080"/><rect x="21" y="33" width="1" height="1" fill="#808080"/><rect x="23" y="33" width="1" height="1" fill="#b8b8b8"/><rect x="24" y="33" width="1" height="1" fill="#b8b8b8"/><rect x="27" y="33" width="1" height="1" fill="#b8b8b8"/><rect x="29" y="33" width="1" height="1" fill="#808080"/><rect x="30" y="33" width="1" height="1" fill="#b8b8b8"/><rect x="32" y="33" width="1" height="1" fill="#808080"/><rect x="33" y="33" width="1" height="1" fill="#808080"/><rect x="35" y="33" width="1" height="1" fill="#b8b8b8"/><rect x="37" y="33" width="1" height="1" fill="#808080"/><rect x="39" y="33" width="1" height="1" fill="#b8b8b8"/><rect x="1" y="34" width="1" height="1" fill="#b8b8b8"/><rect x="3" y="34" width="1" height="1" fill="#b8b8b8"/><rect x="4" y="34" width="1" height="1" fill="#b8b8b8"/><rect x="5" y="34" width="1" height="1" fill="#b8b8b8"/><rect x="7" y="34" width="1" height="1" fill="#b8b8b8"/><rect x="8" y="34" width="1" height="1" fill="#b8b8b8"/><rect x="9" y="34" width="1" height="1" fill="#b8b8b8"/><rect x="10" y="34" width="1" height="1" fill="#808080"/><rect x="11" y="34" width="1" height="1" fill="#b8b8b8"/><rect x="15" y="34" width="1" height="1" fill="#b8b8b8"/><rect x="16" y="34" width="1" height="1" fill="#808080"/><rect x="17" y="34" width="1" height="1" fill="#808080"/><rect x="18" y="34" width="1" height="1" fill="#b8b8b8"/><rect x="19" y="34" width="1" height="1" fill="#b8b8b8"/><rect x="21" y="34" width="1" height="1" fill="#b8b8b8"/><rect x="27" y="34" width="1" height="1" fill="#b8b8b8"/><rect x="28" y="34" width="1" height="1" fill="#b8b8b8"/><rect x="29" y="34" width="1" height="1" fill="#808080"/><rect x="32" y="34" width="1" height="1" fill="#808080"/><rect x="36" y="34" width="1" height="1" fill="#b8b8b8"/><rect x="37" y="34" width="1" height="1" fill="#808080"/><rect x="39" y="34" width="1" height="1" fill="#808080"/><rect x="0" y="35" width="1" height="1" fill="#b8b8b8"/><rect x="2" y="35" width="1" height="1" fill="#808080"/><rect x="4" y="35" width="1" height="1" fill="#b8b8b8"/><rect x="5" y="35" width="1" height="1" fill="#b8b8b8"/><rect x="7" y="35" width="1" height="1" fill="#b8b8b8"/><rect x="8" y="35" width="1" height="1" fill="#808080"/><rect x="9" y="35" width="1" height="1" fill="#b8b8b8"/><rect x="10" y="35" width="1" height="1" fill="#808080"/><rect x="14" y="35" width="1" height="1" fill="#808080"/><rect x="16" y="35" width="1" height="1" fill="#b8b8b8"/><rect x="17" y="35" width="1" height="1" fill="#b8b8b8"/><rect x="18" y="35" width="1" height="1" fill="#b8b8b8"/><rect x="19" y="35" width="1" height="1" fill="#b8b8b8"/><rect x="20" y="35" width="1" height="1" fill="#808080"/><rect x="22" y="35" width="1" height="1" fill="#808080"/><rect x="24" y="35" width="1" height="1" fill="#808080"/><rect x="26" y="35" width="1" height="1" fill="#b8b8b8"/><rect x="27" y="35" width="1" height="1" fill="#808080"/><rect x="33" y="35" width="1" height="1" fill="#808080"/><rect x="37" y="35" width="1" height="1" fill="#808080"/><rect x="38" y="35" width="1" height="1" fill="#808080"/><rect x="1" y="36" width="1" height="1" fill="#b8b8b8"/><rect x="4" y="36" width="1" height="1" fill="#b8b8b8"/><rect x="5" y="36" width="1" height="1" fill="#b8b8b8"/><rect x="7" y="36" width="1" height="1" fill="#808080"/><rect x="8" y="36" width="1" height="1" fill="#b8b8b8"/><rect x="10" y="36" width="1" height="1" fill="#b8b8b8"/><rect x="11" y="36" width="1" height="1" fill="#b8b8b8"/><rect x="12" y="36" width="1" height="1" fill="#b8b8b8"/><rect x="13" y="36" width="1" height="1" fill="#b8b8b8"/><rect x="17" y="36" width="1" height="1" fill="#b8b8b8"/><rect x="18" y="36" width="1" height="1" fill="#b8b8b8"/><rect x="19" y="36" width="1" height="1" fill="#b8b8b8"/><rect x="20" y="36" width="1" height="1" fill="#808080"/><rect x="21" y="36" width="1" height="1" fill="#b8b8b8"/><rect x="24" y="36" width="1" height="1" fill="#b8b8b8"/><rect x="25" y="36" width="1" height="1" fill="#b8b8b8"/><rect x="26" y="36" width="1" height="1" fill="#808080"/><rect x="27" y="36" width="1" height="1" fill="#808080"/><rect x="29" y="36" width="1" height="1" fill="#b8b8b8"/><rect x="32" y="36" width="1" height="1" fill="#b8b8b8"/><rect x="33" y="36" width="1" height="1" fill="#b8b8b8"/><rect x="34" y="36" width="1" height="1" fill="#808080"/><rect x="37" y="36" width="1" height="1" fill="#b8b8b8"/><rect x="39" y="36" width="1" height="1" fill="#b8b8b8"/><rect x="0" y="37" width="1" height="1" fill="#b8b8b8"/><rect x="1" y="37" width="1" height="1" fill="#b8b8b8"/><rect x="2" y="37" width="1" height="1" fill="#b8b8b8"/><rect x="6" y="37" width="1" height="1" fill="#808080"/><rect x="8" y="37" width="1" height="1" fill="#b8b8b8"/><rect x="9" y="37" width="1" height="1" fill="#b8b8b8"/><rect x="11" y="37" width="1" height="1" fill="#b8b8b8"/><rect x="12" y="37" width="1" height="1" fill="#b8b8b8"/><rect x="13" y="37" width="1" height="1" fill="#b8b8b8"/><rect x="17" y="37" width="1" height="1" fill="#b8b8b8"/><rect x="22" y="37" width="1" height="1" fill="#808080"/><rect x="25" y="37" width="1" height="1" fill="#808080"/><rect x="28" y="37" width="1" height="1" fill="#b8b8b8"/><rect x="31" y="37" width="1" height="1" fill="#b8b8b8"/><rect x="32" y="37" width="1" height="1" fill="#808080"/><rect x="33" y="37" width="1" height="1" fill="#b8b8b8"/><rect x="35" y="37" width="1" height="1" fill="#b8b8b8"/><rect x="36" y="37" width="1" height="1" fill="#b8b8b8"/><rect x="37" y="37" width="1" height="1" fill="#b8b8b8"/><rect x="39" y="37" width="1" height="1" fill="#b8b8b8"/><rect x="0" y="38" width="1" height="1" fill="#808080"/><rect x="2" y="38" width="1" height="1" fill="#b8b8b8"/><rect x="3" y="38" width="1" height="1" fill="#b8b8b8"/><rect x="5" y="38" width="1" height="1" fill="#b8b8b8"/><rect x="6" y="38" width="1" height="1" fill="#808080"/><rect x="8" y="38" width="1" height="1" fill="#b8b8b8"/><rect x="9" y="38" width="1" height="1" fill="#b8b8b8"/><rect x="11" y="38" width="1" height="1" fill="#b8b8b8"/><rect x="13" y="38" width="1" height="1" fill="#b8b8b8"/><rect x="14" y="38" width="1" height="1" fill="#b8b8b8"/><rect x="15" y="38" width="1" height="1" fill="#b8b8b8"/><rect x="18" y="38" width="1" height="1" fill="#b8b8b8"/><rect x="20" y="38" width="1" height="1" fill="#b8b8b8"/><rect x="25" y="38" width="1" height="1" fill="#808080"/><rect x="26" y="38" width="1" height="1" fill="#b8b8b8"/><rect x="27" y="38" width="1" height="1" fill="#b8b8b8"/><rect x="28" y="38" width="1" height="1" fill="#808080"/><rect x="33" y="38" width="1" height="1" fill="#808080"/><rect x="34" y="38" width="1" height="1" fill="#b8b8b8"/><rect x="35" y="38" width="1" height="1" fill="#808080"/><rect x="37" y="38" width="1" height="1" fill="#b8b8b8"/><rect x="38" y="38" width="1" height="1" fill="#b8b8b8"/><rect x="0" y="39" width="1" height="1" fill="#b8b8b8"/><rect x="2" y="39" width="1" height="1" fill="#b8b8b8"/><rect x="4" y="39" width="1" height="1" fill="#808080"/><rect x="6" y="39" width="1" height="1" fill="#b8b8b8"/><rect x="7" y="39" width="1" height="1" fill="#b8b8b8"/><rect x="10" y="39" width="1" height="1" fill="#b8b8b8"/><rect x="11" y="39" width="1" height="1" fill="#808080"/><rect x="13" y="39" width="1" height="1" fill="#808080"/><rect x="15" y="39" width="1" height="1" fill="#b8b8b8"/><rect x="16" y="39" width="1" height="1" fill="#808080"/><rect x="17" y="39" width="1" height="1" fill="#b8b8b8"/><rect x="18" y="39" width="1" height="1" fill="#808080"/><rect x="19" y="39" width="1" height="1" fill="#b8b8b8"/><rect x="21" y="39" width="1" height="1" fill="#b8b8b8"/><rect x="22" y="39" width="1" height="1" fill="#b8b8b8"/><rect x="23" y="39" width="1" height="1" fill="#b8b8b8"/><rect x="26" y="39" width="1" height="1" fill="#b8b8b8"/><rect x="29" y="39" width="1" height="1" fill="#808080"/><rect x="30" y="39" width="1" height="1" fill="#808080"/><rect x="32" y="39" width="1" height="1" fill="#b8b8b8"/><rect x="33" y="39" width="1" height="1" fill="#b8b8b8"/><rect x="36" y="39" width="1" height="1" fill="#b8b8b8"/><rect x="37" y="39" width="1" height="1" fill="#b8b8b8"/><rect x="38" y="39" width="1" height="1" fill="#b8b8b8"/><rect x="39" y="39" width="1" height="1" fill="#808080"/></pattern><pattern id="brick" width="7" height="4" patternUnits="userSpaceOnUse" shape-rendering="crispEdges"><rect x="0" y="0" width="1" height="1" fill="#d4d4d4"/><rect x="1" y="0" width="1" height="1" fill="#d4d4d4"/><rect x="2" y="0" width="1" height="1" fill="#d4d4d4"/><rect x="3" y="0" width="1" height="1" fill="#555555"/><rect x="4" y="0" width="1" height="1" fill="#7e7e7e"/><rect x="5" y="0" width="1" height="1" fill="#b0b0b0"/><rect x="6" y="0" width="1" height="1" fill="#7e7e7e"/><rect x="0" y="1" width="1" height="1" fill="#7e7e7e"/><rect x="1" y="1" width="1" height="1" fill="#b0b0b0"/><rect x="2" y="1" width="1" height="1" fill="#7e7e7e"/><rect x="3" y="1" width="1" height="1" fill="#7e7e7e"/><rect x="4" y="1" width="1" height="1" fill="#d4d4d4"/><rect x="5" y="1" width="1" height="1" fill="#d4d4d4"/><rect x="6" y="1" width="1" height="1" fill="#555555"/><rect x="0" y="2" width="1" height="1" fill="#7e7e7e"/><rect x="1" y="2" width="1" height="1" fill="#7e7e7e"/><rect x="2" y="2" width="1" height="1" fill="#555555"/><rect x="3" y="2" width="1" height="1" fill="#b0b0b0"/><rect x="4" y="2" width="1" height="1" fill="#7e7e7e"/><rect x="5" y="2" width="1" height="1" fill="#7e7e7e"/><rect x="6" y="2" width="1" height="1" fill="#7e7e7e"/><rect x="0" y="3" width="1" height="1" fill="#b0b0b0"/><rect x="1" y="3" width="1" height="1" fill="#7e7e7e"/><rect x="2" y="3" width="1" height="1" fill="#7e7e7e"/><rect x="3" y="3" width="1" height="1" fill="#7e7e7e"/><rect x="4" y="3" width="1" height="1" fill="#7e7e7e"/><rect x="5" y="3" width="1" height="1" fill="#555555"/><rect x="6" y="3" width="1" height="1" fill="#b0b0b0"/></pattern><pattern id="dark" width="4" height="60" patternUnits="userSpaceOnUse" x="138.2"><rect x="0" y="0" width="1" height="1" fill="#888"/><rect x="1" y="0" width="1" height="1" fill="#999"/><rect x="2" y="0" width="1" height="1" fill="#666"/><rect x="3" y="0" width="1" height="1" fill="#888"/><rect x="0" y="1" width="1" height="1" fill="#666"/><rect x="1" y="1" width="1" height="1" fill="#888"/><rect x="2" y="1" width="1" height="1" fill="#666"/><rect x="3" y="1" width="1" height="1" fill="#555"/><rect x="0" y="2" width="1" height="1" fill="#666"/><rect x="1" y="2" width="1" height="1" fill="#555"/><rect x="2" y="2" width="1" height="1" fill="#aaa"/><rect x="3" y="2" width="1" height="1" fill="#999"/><rect x="0" y="3" width="1" height="1" fill="#777"/><rect x="1" y="3" width="1" height="1" fill="#777"/><rect x="2" y="3" width="1" height="1" fill="#888"/><rect x="3" y="3" width="1" height="1" fill="#555"/><rect x="0" y="4" width="1" height="1" fill="#aaa"/><rect x="1" y="4" width="1" height="1" fill="#777"/><rect x="2" y="4" width="1" height="1" fill="#777"/><rect x="3" y="4" width="1" height="1" fill="#aaa"/><rect x="0" y="5" width="1" height="1" fill="#999"/><rect x="1" y="5" width="1" height="1" fill="#999"/><rect x="2" y="5" width="1" height="1" fill="#555"/><rect x="3" y="5" width="1" height="1" fill="#999"/><rect x="0" y="6" width="1" height="1" fill="#888"/><rect x="1" y="6" width="1" height="1" fill="#555"/><rect x="2" y="6" width="1" height="1" fill="#777"/><rect x="3" y="6" width="1" height="1" fill="#999"/><rect x="0" y="7" width="1" height="1" fill="#555"/><rect x="1" y="7" width="1" height="1" fill="#888"/><rect x="2" y="7" width="1" height="1" fill="#555"/><rect x="3" y="7" width="1" height="1" fill="#666"/><rect x="0" y="8" width="1" height="1" fill="#777"/><rect x="1" y="8" width="1" height="1" fill="#555"/><rect x="2" y="8" width="1" height="1" fill="#aaa"/><rect x="3" y="8" width="1" height="1" fill="#888"/><rect x="0" y="9" width="1" height="1" fill="#666"/><rect x="1" y="9" width="1" height="1" fill="#999"/><rect x="2" y="9" width="1" height="1" fill="#aaa"/><rect x="3" y="9" width="1" height="1" fill="#666"/><rect x="0" y="10" width="1" height="1" fill="#555"/><rect x="1" y="10" width="1" height="1" fill="#666"/><rect x="2" y="10" width="1" height="1" fill="#aaa"/><rect x="3" y="10" width="1" height="1" fill="#666"/><rect x="0" y="11" width="1" height="1" fill="#aaa"/><rect x="1" y="11" width="1" height="1" fill="#888"/><rect x="2" y="11" width="1" height="1" fill="#aaa"/><rect x="3" y="11" width="1" height="1" fill="#555"/><rect x="0" y="12" width="1" height="1" fill="#555"/><rect x="1" y="12" width="1" height="1" fill="#555"/><rect x="2" y="12" width="1" height="1" fill="#aaa"/><rect x="3" y="12" width="1" height="1" fill="#555"/><rect x="0" y="13" width="1" height="1" fill="#777"/><rect x="1" y="13" width="1" height="1" fill="#555"/><rect x="2" y="13" width="1" height="1" fill="#999"/><rect x="3" y="13" width="1" height="1" fill="#555"/><rect x="0" y="14" width="1" height="1" fill="#aaa"/><rect x="1" y="14" width="1" height="1" fill="#999"/><rect x="2" y="14" width="1" height="1" fill="#555"/><rect x="3" y="14" width="1" height="1" fill="#777"/><rect x="0" y="15" width="1" height="1" fill="#555"/><rect x="1" y="15" width="1" height="1" fill="#aaa"/><rect x="2" y="15" width="1" height="1" fill="#666"/><rect x="3" y="15" width="1" height="1" fill="#555"/><rect x="0" y="16" width="1" height="1" fill="#555"/><rect x="1" y="16" width="1" height="1" fill="#888"/><rect x="2" y="16" width="1" height="1" fill="#aaa"/><rect x="3" y="16" width="1" height="1" fill="#777"/><rect x="0" y="17" width="1" height="1" fill="#999"/><rect x="1" y="17" width="1" height="1" fill="#aaa"/><rect x="2" y="17" width="1" height="1" fill="#666"/><rect x="3" y="17" width="1" height="1" fill="#aaa"/><rect x="0" y="18" width="1" height="1" fill="#888"/><rect x="1" y="18" width="1" height="1" fill="#999"/><rect x="2" y="18" width="1" height="1" fill="#999"/><rect x="3" y="18" width="1" height="1" fill="#aaa"/><rect x="0" y="19" width="1" height="1" fill="#555"/><rect x="1" y="19" width="1" height="1" fill="#777"/><rect x="2" y="19" width="1" height="1" fill="#aaa"/><rect x="3" y="19" width="1" height="1" fill="#888"/><rect x="0" y="20" width="1" height="1" fill="#aaa"/><rect x="1" y="20" width="1" height="1" fill="#555"/><rect x="2" y="20" width="1" height="1" fill="#777"/><rect x="3" y="20" width="1" height="1" fill="#888"/><rect x="0" y="21" width="1" height="1" fill="#666"/><rect x="1" y="21" width="1" height="1" fill="#777"/><rect x="2" y="21" width="1" height="1" fill="#aaa"/><rect x="3" y="21" width="1" height="1" fill="#999"/><rect x="0" y="22" width="1" height="1" fill="#666"/><rect x="1" y="22" width="1" height="1" fill="#888"/><rect x="2" y="22" width="1" height="1" fill="#888"/><rect x="3" y="22" width="1" height="1" fill="#666"/><rect x="0" y="23" width="1" height="1" fill="#aaa"/><rect x="1" y="23" width="1" height="1" fill="#666"/><rect x="2" y="23" width="1" height="1" fill="#777"/><rect x="3" y="23" width="1" height="1" fill="#888"/><rect x="0" y="24" width="1" height="1" fill="#aaa"/><rect x="1" y="24" width="1" height="1" fill="#999"/><rect x="2" y="24" width="1" height="1" fill="#aaa"/><rect x="3" y="24" width="1" height="1" fill="#999"/><rect x="0" y="25" width="1" height="1" fill="#555"/><rect x="1" y="25" width="1" height="1" fill="#777"/><rect x="2" y="25" width="1" height="1" fill="#777"/><rect x="3" y="25" width="1" height="1" fill="#888"/><rect x="0" y="26" width="1" height="1" fill="#999"/><rect x="1" y="26" width="1" height="1" fill="#666"/><rect x="2" y="26" width="1" height="1" fill="#666"/><rect x="3" y="26" width="1" height="1" fill="#777"/><rect x="0" y="27" width="1" height="1" fill="#888"/><rect x="1" y="27" width="1" height="1" fill="#aaa"/><rect x="2" y="27" width="1" height="1" fill="#888"/><rect x="3" y="27" width="1" height="1" fill="#999"/><rect x="0" y="28" width="1" height="1" fill="#999"/><rect x="1" y="28" width="1" height="1" fill="#999"/><rect x="2" y="28" width="1" height="1" fill="#999"/><rect x="3" y="28" width="1" height="1" fill="#777"/><rect x="0" y="29" width="1" height="1" fill="#999"/><rect x="1" y="29" width="1" height="1" fill="#999"/><rect x="2" y="29" width="1" height="1" fill="#555"/><rect x="3" y="29" width="1" height="1" fill="#777"/><rect x="0" y="30" width="1" height="1" fill="#666"/><rect x="1" y="30" width="1" height="1" fill="#aaa"/><rect x="2" y="30" width="1" height="1" fill="#999"/><rect x="3" y="30" width="1" height="1" fill="#888"/><rect x="0" y="31" width="1" height="1" fill="#666"/><rect x="1" y="31" width="1" height="1" fill="#666"/><rect x="2" y="31" width="1" height="1" fill="#888"/><rect x="3" y="31" width="1" height="1" fill="#666"/><rect x="0" y="32" width="1" height="1" fill="#777"/><rect x="1" y="32" width="1" height="1" fill="#555"/><rect x="2" y="32" width="1" height="1" fill="#aaa"/><rect x="3" y="32" width="1" height="1" fill="#999"/><rect x="0" y="33" width="1" height="1" fill="#555"/><rect x="1" y="33" width="1" height="1" fill="#888"/><rect x="2" y="33" width="1" height="1" fill="#aaa"/><rect x="3" y="33" width="1" height="1" fill="#999"/><rect x="0" y="34" width="1" height="1" fill="#666"/><rect x="1" y="34" width="1" height="1" fill="#555"/><rect x="2" y="34" width="1" height="1" fill="#aaa"/><rect x="3" y="34" width="1" height="1" fill="#aaa"/><rect x="0" y="35" width="1" height="1" fill="#666"/><rect x="1" y="35" width="1" height="1" fill="#888"/><rect x="2" y="35" width="1" height="1" fill="#aaa"/><rect x="3" y="35" width="1" height="1" fill="#888"/><rect x="0" y="36" width="1" height="1" fill="#999"/><rect x="1" y="36" width="1" height="1" fill="#888"/><rect x="2" y="36" width="1" height="1" fill="#666"/><rect x="3" y="36" width="1" height="1" fill="#888"/><rect x="0" y="37" width="1" height="1" fill="#888"/><rect x="1" y="37" width="1" height="1" fill="#aaa"/><rect x="2" y="37" width="1" height="1" fill="#666"/><rect x="3" y="37" width="1" height="1" fill="#aaa"/><rect x="0" y="38" width="1" height="1" fill="#777"/><rect x="1" y="38" width="1" height="1" fill="#999"/><rect x="2" y="38" width="1" height="1" fill="#555"/><rect x="3" y="38" width="1" height="1" fill="#aaa"/><rect x="0" y="39" width="1" height="1" fill="#555"/><rect x="1" y="39" width="1" height="1" fill="#666"/><rect x="2" y="39" width="1" height="1" fill="#666"/><rect x="3" y="39" width="1" height="1" fill="#666"/><rect x="0" y="40" width="1" height="1" fill="#aaa"/><rect x="1" y="40" width="1" height="1" fill="#777"/><rect x="2" y="40" width="1" height="1" fill="#777"/><rect x="3" y="40" width="1" height="1" fill="#999"/><rect x="0" y="41" width="1" height="1" fill="#aaa"/><rect x="1" y="41" width="1" height="1" fill="#777"/><rect x="2" y="41" width="1" height="1" fill="#888"/><rect x="3" y="41" width="1" height="1" fill="#888"/><rect x="0" y="42" width="1" height="1" fill="#999"/><rect x="1" y="42" width="1" height="1" fill="#555"/><rect x="2" y="42" width="1" height="1" fill="#777"/><rect x="3" y="42" width="1" height="1" fill="#777"/><rect x="0" y="43" width="1" height="1" fill="#aaa"/><rect x="1" y="43" width="1" height="1" fill="#777"/><rect x="2" y="43" width="1" height="1" fill="#666"/><rect x="3" y="43" width="1" height="1" fill="#aaa"/><rect x="0" y="44" width="1" height="1" fill="#888"/><rect x="1" y="44" width="1" height="1" fill="#555"/><rect x="2" y="44" width="1" height="1" fill="#999"/><rect x="3" y="44" width="1" height="1" fill="#999"/><rect x="0" y="45" width="1" height="1" fill="#aaa"/><rect x="1" y="45" width="1" height="1" fill="#777"/><rect x="2" y="45" width="1" height="1" fill="#888"/><rect x="3" y="45" width="1" height="1" fill="#aaa"/><rect x="0" y="46" width="1" height="1" fill="#555"/><rect x="1" y="46" width="1" height="1" fill="#555"/><rect x="2" y="46" width="1" height="1" fill="#999"/><rect x="3" y="46" width="1" height="1" fill="#666"/><rect x="0" y="47" width="1" height="1" fill="#999"/><rect x="1" y="47" width="1" height="1" fill="#666"/><rect x="2" y="47" width="1" height="1" fill="#888"/><rect x="3" y="47" width="1" height="1" fill="#555"/><rect x="0" y="48" width="1" height="1" fill="#aaa"/><rect x="1" y="48" width="1" height="1" fill="#999"/><rect x="2" y="48" width="1" height="1" fill="#999"/><rect x="3" y="48" width="1" height="1" fill="#777"/><rect x="0" y="49" width="1" height="1" fill="#aaa"/><rect x="1" y="49" width="1" height="1" fill="#666"/><rect x="2" y="49" width="1" height="1" fill="#888"/><rect x="3" y="49" width="1" height="1" fill="#888"/><rect x="0" y="50" width="1" height="1" fill="#666"/><rect x="1" y="50" width="1" height="1" fill="#999"/><rect x="2" y="50" width="1" height="1" fill="#888"/><rect x="3" y="50" width="1" height="1" fill="#666"/><rect x="0" y="51" width="1" height="1" fill="#999"/><rect x="1" y="51" width="1" height="1" fill="#777"/><rect x="2" y="51" width="1" height="1" fill="#555"/><rect x="3" y="51" width="1" height="1" fill="#777"/><rect x="0" y="52" width="1" height="1" fill="#888"/><rect x="1" y="52" width="1" height="1" fill="#555"/><rect x="2" y="52" width="1" height="1" fill="#999"/><rect x="3" y="52" width="1" height="1" fill="#888"/><rect x="0" y="53" width="1" height="1" fill="#555"/><rect x="1" y="53" width="1" height="1" fill="#999"/><rect x="2" y="53" width="1" height="1" fill="#555"/><rect x="3" y="53" width="1" height="1" fill="#777"/><rect x="0" y="54" width="1" height="1" fill="#555"/><rect x="1" y="54" width="1" height="1" fill="#666"/><rect x="2" y="54" width="1" height="1" fill="#777"/><rect x="3" y="54" width="1" height="1" fill="#999"/><rect x="0" y="55" width="1" height="1" fill="#555"/><rect x="1" y="55" width="1" height="1" fill="#777"/><rect x="2" y="55" width="1" height="1" fill="#999"/><rect x="3" y="55" width="1" height="1" fill="#888"/><rect x="0" y="56" width="1" height="1" fill="#777"/><rect x="1" y="56" width="1" height="1" fill="#666"/><rect x="2" y="56" width="1" height="1" fill="#aaa"/><rect x="3" y="56" width="1" height="1" fill="#888"/><rect x="0" y="57" width="1" height="1" fill="#aaa"/><rect x="1" y="57" width="1" height="1" fill="#888"/><rect x="2" y="57" width="1" height="1" fill="#555"/><rect x="3" y="57" width="1" height="1" fill="#555"/><rect x="0" y="58" width="1" height="1" fill="#888"/><rect x="1" y="58" width="1" height="1" fill="#777"/><rect x="2" y="58" width="1" height="1" fill="#aaa"/><rect x="3" y="58" width="1" height="1" fill="#999"/><rect x="0" y="59" width="1" height="1" fill="#777"/><rect x="1" y="59" width="1" height="1" fill="#888"/><rect x="2" y="59" width="1" height="1" fill="#999"/><rect x="3" y="59" width="1" height="1" fill="#888"/></pattern></defs>
<g stroke-linecap="square">
<polygon points="138.20,386.00 141.60,384.30 297.50,355.20 304.00,353.70 423.00,332.30 424.40,333.60 432.00,368.00 439.50,409.60 136.30,471.10" stroke="none" stroke-width="0" fill="url(#brick)" />
<polygon points="138.20,386.00 141.60,384.30 281.00,358.60 281.00,363.60 138.40,412.50" stroke="none" stroke-width="0" fill="url(#stip)" />
<polygon points="154.00,469.00 207.00,419.80 228.00,443.30 341.50,380.00 353.50,402.50 434.30,381.00 439.50,409.60 136.30,471.10" stroke="none" stroke-width="0" fill="url(#stip)" />
<polygon points="382.00,333.50 413.80,284.30 423.00,331.00" stroke="none" stroke-width="0" fill="url(#stip)" />
<line x1="136.3" y1="471.1" x2="443" y2="409.5" stroke="#333" stroke-width="0.9" />
<polygon points="432.00,368.00 436.00,368.00 443.00,409.50 439.30,409.60" stroke="#222" stroke-width="0.8" fill="#fff" />
<line x1="424.4" y1="333.6" x2="432" y2="368" stroke="#222" stroke-width="0.8" />
<line x1="141.6" y1="384.3" x2="297.5" y2="355.2" stroke="#111" stroke-width="1.7" />
<polygon points="139.12,414.58 280.72,365.88 279.28,361.72 137.68,410.42" stroke="#1a1a1a" stroke-width="0.8" fill="#fff" />
<polygon points="278.87,358.97 280.87,365.07 283.73,364.13 281.73,358.03" stroke="#1a1a1a" stroke-width="0.7" fill="#fff" />
<polygon points="155.56,470.69 208.56,421.49 205.44,418.11 152.44,467.31" stroke="#1a1a1a" stroke-width="0.8" fill="#fff" />
<line x1="168.47462102389255" y1="458.01920557451837" x2="166.02537897610745" y2="455.3807944254816" stroke="#222" stroke-width="0.5" />
<line x1="181.72462102389255" y1="445.71920557451836" x2="179.27537897610745" y2="443.0807944254816" stroke="#222" stroke-width="0.5" />
<line x1="194.97462102389255" y1="433.4192055745184" x2="192.52537897610745" y2="430.78079442548164" stroke="#222" stroke-width="0.5" />
<polygon points="205.28,421.33 226.28,444.83 229.72,441.77 208.72,418.27" stroke="#1a1a1a" stroke-width="0.8" fill="#fff" />
<line x1="216.15781901888909" y1="432.74939577035445" x2="218.84218098111091" y2="430.35060422964557" stroke="#222" stroke-width="0.5" />
<polygon points="229.12,445.31 342.62,382.01 340.38,377.99 226.88,441.29" stroke="#1a1a1a" stroke-width="0.8" fill="#fff" />
<line x1="247.7934099495711" y1="434.3220436431225" x2="246.03992338376221" y2="431.1779563568775" stroke="#222" stroke-width="0.5" />
<line x1="266.71007661623776" y1="423.7720436431225" x2="264.9565900504289" y2="420.62795635687746" stroke="#222" stroke-width="0.5" />
<line x1="285.62674328290444" y1="413.2220436431225" x2="283.87325671709556" y2="410.07795635687745" stroke="#222" stroke-width="0.5" />
<line x1="304.54340994957107" y1="402.67204364312255" x2="302.7899233837622" y2="399.5279563568775" stroke="#222" stroke-width="0.5" />
<line x1="323.4600766162378" y1="392.12204364312254" x2="321.70659005042893" y2="388.9779563568775" stroke="#222" stroke-width="0.5" />
<polygon points="339.47,381.08 351.47,403.58 355.53,401.42 343.53,378.92" stroke="#1a1a1a" stroke-width="0.8" fill="#fff" />
<line x1="345.9117647058824" y1="392.09705882352944" x2="349.0882352941176" y2="390.40294117647056" stroke="#222" stroke-width="0.5" />
<polygon points="354.09,404.72 434.89,383.22 433.71,378.78 352.91,400.28" stroke="#1a1a1a" stroke-width="0.8" fill="#fff" />
<line x1="374.1628547560713" y1="398.8644727577005" x2="373.2371452439287" y2="395.3855272422995" stroke="#222" stroke-width="0.5" />
<line x1="394.3628547560713" y1="393.4894727577005" x2="393.4371452439287" y2="390.0105272422995" stroke="#222" stroke-width="0.5" />
<line x1="414.5628547560713" y1="388.1144727577005" x2="413.6371452439287" y2="384.6355272422995" stroke="#222" stroke-width="0.5" />
<circle cx="144.3" cy="430" r="0.7" stroke="#111" stroke-width="0.5" fill="#111"/>
<circle cx="142.9" cy="450.9" r="0.7" stroke="#111" stroke-width="0.5" fill="#111"/>
<circle cx="165.7" cy="426.3" r="0.7" stroke="#111" stroke-width="0.5" fill="#111"/>
<circle cx="208.6" cy="412" r="0.7" stroke="#111" stroke-width="0.5" fill="#111"/>
<circle cx="249.4" cy="398" r="0.7" stroke="#111" stroke-width="0.5" fill="#111"/>
<circle cx="291.4" cy="384.3" r="0.7" stroke="#111" stroke-width="0.5" fill="#111"/>
<circle cx="382" cy="361" r="0.7" stroke="#111" stroke-width="0.5" fill="#111"/>
<circle cx="352" cy="424" r="0.7" stroke="#111" stroke-width="0.5" fill="#111"/>
<circle cx="325" cy="433" r="0.7" stroke="#111" stroke-width="0.5" fill="#111"/>
<polygon points="304.00,346.20 381.00,332.30 383.00,335.00 304.00,350.10" stroke="#222" stroke-width="0.7" fill="#fff" />
<polygon points="304.00,350.10 423.00,329.30 423.00,332.30 304.00,353.70" stroke="#222" stroke-width="0.7" fill="#fff" />
<line x1="342" y1="339.2" x2="342" y2="342.9" stroke="#222" stroke-width="0.6" />
<line x1="359" y1="340.2" x2="359" y2="343.8" stroke="#222" stroke-width="0.6" />
<line x1="335.5" y1="341.5" x2="335.5" y2="345.4" stroke="#222" stroke-width="0.6" />
<line x1="318.8" y1="343.5" x2="318.8" y2="347.5" stroke="#222" stroke-width="0.6" />
<line x1="312.5" y1="348.6" x2="312.5" y2="352.2" stroke="#222" stroke-width="0.6" />
<line x1="400" y1="332.6" x2="400" y2="335.5" stroke="#222" stroke-width="0.6" />
<polygon points="384.27,334.94 415.57,286.34 412.03,284.06 380.73,332.66" stroke="#1a1a1a" stroke-width="0.8" fill="#fff" />
<polygon points="212.50,417.00 217.50,413.50 234.50,432.00 230.00,437.00" stroke="#111" stroke-width="1.1" fill="#b4b4b4" />
<polygon points="344.50,375.00 350.00,372.00 363.00,395.50 357.00,398.50" stroke="#111" stroke-width="1.1" fill="#b4b4b4" />
<line x1="214.44444444444446" y1="419.22222222222223" x2="219.38888888888889" y2="415.55555555555554" stroke="#666" stroke-width="0.35" />
<line x1="216.38888888888889" y1="421.44444444444446" x2="221.27777777777777" y2="417.6111111111111" stroke="#666" stroke-width="0.35" />
<line x1="218.33333333333334" y1="423.6666666666667" x2="223.16666666666666" y2="419.6666666666667" stroke="#666" stroke-width="0.35" />
<line x1="220.27777777777777" y1="425.8888888888889" x2="225.05555555555554" y2="421.72222222222223" stroke="#666" stroke-width="0.35" />
<line x1="222.22222222222223" y1="428.1111111111111" x2="226.94444444444446" y2="423.77777777777777" stroke="#666" stroke-width="0.35" />
<line x1="224.16666666666666" y1="430.3333333333333" x2="228.83333333333334" y2="425.8333333333333" stroke="#666" stroke-width="0.35" />
<line x1="226.11111111111111" y1="432.55555555555554" x2="230.72222222222223" y2="427.8888888888889" stroke="#666" stroke-width="0.35" />
<line x1="228.05555555555554" y1="434.77777777777777" x2="232.61111111111111" y2="429.94444444444446" stroke="#666" stroke-width="0.35" />
<line x1="345.8888888888889" y1="377.6111111111111" x2="351.44444444444446" y2="374.6111111111111" stroke="#666" stroke-width="0.35" />
<line x1="347.27777777777777" y1="380.22222222222223" x2="352.8888888888889" y2="377.22222222222223" stroke="#666" stroke-width="0.35" />
<line x1="348.6666666666667" y1="382.8333333333333" x2="354.3333333333333" y2="379.8333333333333" stroke="#666" stroke-width="0.35" />
<line x1="350.05555555555554" y1="385.44444444444446" x2="355.77777777777777" y2="382.44444444444446" stroke="#666" stroke-width="0.35" />
<line x1="351.44444444444446" y1="388.05555555555554" x2="357.22222222222223" y2="385.05555555555554" stroke="#666" stroke-width="0.35" />
<line x1="352.8333333333333" y1="390.6666666666667" x2="358.6666666666667" y2="387.6666666666667" stroke="#666" stroke-width="0.35" />
<line x1="354.22222222222223" y1="393.27777777777777" x2="360.1111111111111" y2="390.27777777777777" stroke="#666" stroke-width="0.35" />
<line x1="355.6111111111111" y1="395.8888888888889" x2="361.55555555555554" y2="392.8888888888889" stroke="#666" stroke-width="0.35" />
<polygon points="139.20,214.00 142.80,214.00 141.20,386.00 137.40,386.00" stroke="#444" stroke-width="0.6" fill="url(#dark)" />
<line x1="138.2" y1="386" x2="137.2" y2="471" stroke="#222" stroke-width="0.8" />
<line x1="141.4" y1="386" x2="141.4" y2="412" stroke="#222" stroke-width="0.7" />
<polygon points="158.07,223.94 154.59,223.62 154.72,226.50 152.52,224.48 150.73,227.11 150.36,224.01 147.04,225.03 149.32,222.12 146.68,220.90 149.13,219.92 147.91,217.13 150.75,218.30 151.64,215.83 152.98,218.22 155.74,216.09 154.68,219.51 158.49,219.52 155.59,221.55" stroke="#000" stroke-width="0.35" fill="#000" />
<polygon points="157.16,244.99 153.67,243.33 153.20,246.89 151.64,243.64 149.24,245.66 149.53,242.88 146.79,242.58 148.93,240.65 146.59,238.57 149.80,238.62 149.25,235.42 151.71,237.69 153.40,234.40 153.73,238.13 156.66,237.06 155.00,239.73 157.99,240.78 155.15,241.82" stroke="#000" stroke-width="0.35" fill="#000" />
<polygon points="146.72,260.40 148.98,259.01 147.48,256.65 150.16,257.02 150.66,254.50 152.42,256.42 154.72,254.08 154.54,257.36 158.12,256.88 155.25,259.47 157.90,261.20 154.95,261.64 155.64,264.48 153.06,262.76 151.82,265.54 150.84,262.89 147.73,264.47 149.20,261.28" stroke="#000" stroke-width="0.35" fill="#000" />
<polygon points="146.59,279.64 149.31,278.26 146.63,275.36 150.35,276.49 150.50,273.53 152.34,275.63 154.45,273.47 154.49,276.40 157.30,276.24 155.60,278.45 157.91,280.16 154.94,280.65 156.17,284.08 153.19,282.04 151.92,285.41 150.94,281.95 148.45,283.00 149.19,280.47" stroke="#000" stroke-width="0.35" fill="#000" />
<polygon points="151.31,304.11 150.58,301.26 147.83,302.14 149.21,299.47 146.32,298.44 149.21,297.29 147.07,294.19 150.64,295.74 151.02,292.43 152.66,295.27 155.02,293.14 154.79,296.02 157.66,296.17 155.45,298.22 157.85,300.21 154.79,300.37 155.32,303.42 152.80,301.28" stroke="#000" stroke-width="0.35" fill="#000" />
<polygon points="155.57,321.95 152.84,319.67 151.16,322.73 150.57,319.22 147.31,320.53 149.44,317.35 146.01,316.39 149.30,315.29 147.31,312.32 150.58,313.58 151.05,310.29 152.71,313.12 155.19,310.94 154.74,314.10 158.35,313.96 155.32,316.25 158.23,318.40 154.83,318.44" stroke="#000" stroke-width="0.35" fill="#000" />
<polygon points="158.42,335.06 154.89,335.67 156.30,338.69 153.49,337.32 152.54,340.66 151.27,337.34 148.57,339.13 149.72,335.91 146.38,335.65 149.09,333.92 146.46,331.38 150.00,331.94 149.72,328.48 152.03,331.14 153.86,328.85 154.23,331.60 157.57,330.81 155.26,333.59" stroke="#000" stroke-width="0.35" fill="#000" />
<polygon points="152.24,359.19 151.11,356.48 148.53,357.85 149.45,355.01 145.74,354.59 149.25,352.90 147.11,350.51 150.07,350.90 150.25,348.16 152.18,350.37 154.34,347.36 154.39,350.75 157.24,350.44 155.19,352.85 158.68,354.49 154.91,354.94 156.20,358.09 153.34,356.45" stroke="#000" stroke-width="0.35" fill="#000" />
<polygon points="158.29,372.52 154.82,373.07 156.29,376.18 153.51,374.88 152.44,377.51 151.16,374.98 148.41,376.61 149.33,373.51 146.81,372.88 148.91,371.26 146.83,368.88 150.01,369.30 149.95,366.23 152.06,368.26 154.09,365.77 154.22,369.08 157.48,368.36 155.35,371.01" stroke="#000" stroke-width="0.35" fill="#000" />
<polygon points="171.06,226.38 169.75,223.23 166.80,225.49 168.16,221.87 164.22,221.83 167.31,219.87 164.85,217.43 168.26,217.80 168.25,214.99 170.35,216.85 172.28,214.21 172.36,217.74 175.93,216.57 173.67,219.42 176.86,220.83 173.30,221.50 174.96,224.67 171.81,222.89" stroke="#000" stroke-width="0.35" fill="#000" />
<polygon points="173.85,243.46 171.20,241.09 169.65,244.71 169.01,241.16 165.67,242.59 167.74,239.34 164.88,238.37 167.77,237.27 166.11,234.66 169.04,235.68 169.33,232.07 171.05,235.10 173.63,232.57 173.09,235.98 176.07,236.02 173.63,238.11 176.19,240.04 172.93,240.04" stroke="#000" stroke-width="0.35" fill="#000" />
<polygon points="165.92,260.39 167.28,258.09 164.34,256.57 167.85,255.92 166.50,252.96 169.42,254.58 170.26,251.65 171.54,254.16 174.39,252.20 173.14,255.62 176.70,255.85 173.72,257.66 176.05,260.03 172.91,259.75 172.89,262.59 170.78,260.33 168.89,263.02 168.55,260.06" stroke="#000" stroke-width="0.35" fill="#000" />
<polygon points="175.60,280.32 172.28,279.19 172.18,283.00 170.29,279.73 167.97,282.10 168.20,279.02 164.67,279.35 167.37,276.93 164.59,274.99 167.99,274.81 167.00,271.37 169.86,273.73 171.25,270.48 172.02,273.78 174.92,272.52 173.49,275.41 176.09,276.31 173.71,277.59" stroke="#000" stroke-width="0.35" fill="#000" />
<polygon points="172.10,301.73 170.27,299.01 167.93,301.34 168.20,298.14 164.61,298.49 167.32,296.04 164.45,294.06 167.98,293.91 167.22,290.82 169.77,292.53 171.27,289.24 172.01,292.89 175.04,291.48 173.32,294.58 177.03,295.33 173.75,296.69 175.63,299.42 172.31,298.31" stroke="#000" stroke-width="0.35" fill="#000" />
<polygon points="172.30,320.36 170.46,317.94 168.37,320.23 168.34,317.35 165.47,317.55 167.48,315.30 164.50,313.52 167.89,313.16 166.64,309.70 169.65,311.85 170.88,308.94 171.86,311.90 174.49,310.68 173.62,313.34 176.46,314.15 173.67,315.59 175.86,318.28 172.43,317.31" stroke="#000" stroke-width="0.35" fill="#000" />
<polygon points="166.61,336.92 168.09,333.37 164.21,333.17 167.27,331.34 165.69,329.20 168.35,329.31 168.20,325.88 170.49,328.76 172.62,325.55 172.52,329.33 175.68,328.62 173.80,331.11 176.80,332.66 173.54,333.36 174.49,336.11 171.80,334.76 170.80,337.45 169.65,334.74" stroke="#000" stroke-width="0.35" fill="#000" />
<polygon points="177.02,351.52 173.59,352.33 174.47,354.84 171.94,353.83 171.05,356.64 169.69,354.17 166.86,356.14 168.04,352.66 164.64,352.44 167.42,350.59 165.36,348.40 168.38,348.64 168.14,345.50 170.35,347.73 172.35,344.59 172.53,348.20 175.17,347.76 173.63,350.12" stroke="#000" stroke-width="0.35" fill="#000" />
<polygon points="170.33,375.30 169.28,372.76 166.40,374.16 167.72,371.09 164.12,370.43 167.68,368.94 165.24,366.16 168.74,367.16 168.88,364.09 170.75,366.49 173.04,363.78 172.92,367.09 176.18,366.72 173.68,369.20 176.10,370.84 173.20,371.27 174.08,374.16 171.55,372.66" stroke="#000" stroke-width="0.35" fill="#000" />
<polygon points="195.63,217.46 192.35,218.12 193.25,220.77 190.61,219.35 189.73,223.13 188.52,219.60 185.91,221.19 186.71,218.34 183.11,217.95 186.43,216.17 183.72,213.52 187.42,214.29 187.05,210.52 189.39,213.30 191.24,211.24 191.60,213.91 194.27,213.62 192.43,215.98" stroke="#000" stroke-width="0.35" fill="#000" />
<polygon points="189.79,240.31 188.49,237.89 185.57,239.78 186.71,236.40 183.24,236.03 186.56,234.23 183.86,231.71 187.46,232.40 187.20,229.14 189.34,231.41 191.20,229.08 191.45,232.03 194.54,231.34 192.39,233.94 195.27,235.32 192.35,236.06 193.83,239.27 190.79,237.65" stroke="#000" stroke-width="0.35" fill="#000" />
<polygon points="189.20,259.23 188.19,256.77 185.61,257.86 186.56,255.19 184.04,254.36 186.50,253.00 184.38,250.36 187.52,251.07 187.62,247.49 189.67,250.55 191.78,248.37 191.64,251.42 195.13,250.84 192.83,253.30 195.05,254.99 192.28,255.51 193.04,258.42 190.39,256.63" stroke="#000" stroke-width="0.35" fill="#000" />
<polygon points="191.35,278.32 189.34,275.83 187.37,277.52 187.27,274.82 183.66,275.42 186.43,272.80 184.02,271.17 186.81,270.68 186.11,267.96 188.58,269.46 189.79,266.00 190.76,269.37 193.75,267.79 192.30,270.95 195.40,271.64 192.38,273.05 194.44,275.57 191.50,275.02" stroke="#000" stroke-width="0.35" fill="#000" />
<polygon points="187.97,298.10 187.57,295.00 184.14,296.02 186.28,293.09 183.56,291.73 186.57,290.86 184.95,287.72 188.11,289.27 188.95,286.42 190.27,289.25 193.22,286.80 191.93,290.47 194.83,290.73 192.70,292.46 194.68,294.57 191.69,294.35 192.16,297.80 189.82,295.52" stroke="#000" stroke-width="0.35" fill="#000" />
<polygon points="195.90,311.29 192.15,311.71 193.20,314.56 190.61,313.20 189.54,316.37 188.34,313.44 185.78,314.68 186.76,311.81 183.89,311.22 186.38,309.67 184.42,307.30 187.30,307.60 187.56,304.98 189.48,306.96 191.59,304.35 191.63,307.63 194.51,307.27 192.47,309.66" stroke="#000" stroke-width="0.35" fill="#000" />
<polygon points="193.80,332.65 190.81,331.15 189.89,333.82 188.58,331.42 186.04,332.96 186.74,330.06 183.88,329.60 186.28,327.86 183.74,325.39 187.24,325.86 187.21,323.05 189.27,324.91 191.09,322.67 191.28,325.76 194.78,324.64 192.46,327.46 195.30,328.81 192.17,329.50" stroke="#000" stroke-width="0.35" fill="#000" />
<polygon points="195.82,347.89 192.27,348.61 193.45,351.30 190.92,350.39 190.00,353.48 188.64,350.45 185.95,352.30 187.03,349.01 183.14,348.96 186.41,347.01 183.58,344.49 187.32,345.09 187.06,341.99 189.23,343.93 191.12,341.41 191.47,344.52 194.45,343.88 192.71,346.46" stroke="#000" stroke-width="0.35" fill="#000" />
<polygon points="195.46,368.10 191.78,367.87 192.47,371.02 190.06,369.01 188.45,372.31 187.92,368.80 185.25,369.64 186.44,367.15 183.02,366.06 186.68,365.01 184.72,362.07 187.82,363.16 188.30,359.55 190.06,362.64 192.73,360.27 191.75,364.08 194.70,364.05 192.77,365.97" stroke="#000" stroke-width="0.35" fill="#000" />
<polygon points="214.05,212.67 210.73,213.07 211.31,215.80 208.81,214.25 207.51,217.74 206.70,213.98 203.45,215.90 204.91,212.70 201.35,211.95 205.00,210.51 202.45,207.60 206.12,208.80 206.10,205.14 208.10,207.91 210.26,205.75 209.94,209.04 213.65,208.32 211.20,210.82" stroke="#000" stroke-width="0.35" fill="#000" />
<polygon points="207.19,234.80 206.55,231.83 203.71,233.08 205.13,230.37 201.77,229.50 204.86,228.26 202.70,225.25 206.04,226.32 206.47,222.92 208.32,225.87 210.75,223.65 210.13,227.14 213.56,226.82 211.09,229.04 213.67,230.98 210.47,231.15 211.24,234.37 208.61,232.31" stroke="#000" stroke-width="0.35" fill="#000" />
<polygon points="209.68,253.60 207.82,251.54 205.84,253.56 205.79,250.69 202.75,251.10 204.64,248.79 202.34,247.17 204.97,246.51 204.42,243.94 206.95,245.47 208.06,242.06 209.16,245.10 212.17,243.47 210.85,246.69 213.50,247.46 210.89,248.90 212.87,251.34 209.81,250.70" stroke="#000" stroke-width="0.35" fill="#000" />
<polygon points="206.62,273.18 206.35,269.52 202.82,271.01 204.80,268.03 201.69,266.82 204.77,265.75 203.51,263.09 206.31,264.05 207.00,260.82 208.51,264.05 211.20,261.66 210.45,264.99 213.98,264.99 211.26,267.10 213.69,269.30 210.33,269.16 210.99,272.74 208.34,270.01" stroke="#000" stroke-width="0.35" fill="#000" />
<polygon points="211.20,291.35 208.84,290.09 207.48,292.67 206.66,289.59 203.38,291.47 205.23,288.10 201.62,287.45 204.87,286.04 203.17,283.60 206.07,284.28 206.31,281.25 208.13,283.54 210.52,280.94 210.11,284.51 213.03,284.30 210.96,286.48 213.75,288.26 210.40,288.49" stroke="#000" stroke-width="0.35" fill="#000" />
<polygon points="204.51,310.16 205.15,307.35 201.58,307.07 204.62,305.15 202.77,303.00 205.54,303.06 205.32,299.71 207.69,302.49 209.42,300.20 209.69,303.04 212.48,302.41 211.10,304.70 213.93,306.13 210.97,307.00 211.88,309.63 209.16,308.33 208.29,311.09 206.95,308.81" stroke="#000" stroke-width="0.35" fill="#000" />
<polygon points="211.56,327.95 208.89,326.32 207.83,329.94 206.82,326.39 204.12,327.91 204.92,325.18 202.02,324.48 204.75,322.91 203.05,320.63 205.94,321.12 205.94,317.94 207.93,320.51 209.92,318.11 209.96,321.09 213.46,320.36 211.13,322.96 213.49,324.55 210.71,325.16" stroke="#000" stroke-width="0.35" fill="#000" />
<polygon points="213.87,344.94 210.17,344.60 210.59,347.53 208.35,345.55 206.74,348.39 206.36,345.12 202.96,346.55 204.98,343.58 201.48,342.45 205.09,341.50 203.31,338.56 206.48,340.00 206.93,336.21 208.49,339.65 210.90,337.68 210.53,340.50 213.61,340.68 211.15,342.68" stroke="#000" stroke-width="0.35" fill="#000" />
<polygon points="201.99,361.98 204.61,360.20 202.93,358.08 205.73,358.29 205.49,354.96 207.73,357.49 209.68,354.75 209.88,357.97 213.27,357.09 210.82,359.92 214.11,361.35 210.68,362.01 211.82,364.79 209.25,363.77 208.24,366.84 206.98,363.64 204.54,365.08 205.02,362.48" stroke="#000" stroke-width="0.35" fill="#000" />
<polygon points="223.39,271.78 222.57,268.92 219.56,270.15 220.94,267.25 218.36,266.21 220.86,264.92 219.65,262.56 222.41,263.31 222.77,260.20 224.49,262.70 226.60,260.98 226.34,263.81 229.20,263.72 227.26,265.73 229.79,267.63 226.65,267.82 227.15,270.58 224.84,269.09" stroke="#000" stroke-width="0.35" fill="#000" />
<polygon points="229.25,289.01 225.82,287.74 225.36,290.90 223.65,288.26 221.21,290.45 221.81,287.07 218.58,287.24 221.02,285.11 217.86,282.98 221.74,283.17 220.60,279.42 223.46,282.00 224.98,278.71 225.66,282.06 228.41,281.11 227.08,283.79 230.25,284.78 227.21,286.01" stroke="#000" stroke-width="0.35" fill="#000" />
<polygon points="228.97,307.59 225.86,306.68 225.50,309.54 223.79,307.31 221.71,309.10 221.77,306.38 218.48,306.65 221.16,304.33 218.20,302.45 221.49,302.23 220.49,298.83 223.26,300.83 224.69,298.11 225.38,301.43 228.62,299.67 226.81,302.87 230.18,303.63 227.24,304.98" stroke="#000" stroke-width="0.35" fill="#000" />
<polygon points="229.41,323.59 226.16,323.14 226.43,326.24 224.33,324.27 222.52,326.52 222.14,323.70 218.87,324.53 221.23,321.72 217.68,320.32 221.24,319.60 220.26,317.03 222.82,318.13 223.69,315.11 224.99,317.90 227.71,316.03 226.91,319.10 230.28,319.46 227.38,321.35" stroke="#000" stroke-width="0.35" fill="#000" />
<polygon points="229.87,339.36 227.01,340.27 228.84,343.51 225.59,342.00 224.81,345.30 223.40,341.88 220.72,344.10 221.61,340.83 218.66,340.60 221.12,338.81 219.03,336.79 221.70,336.71 221.59,333.94 223.73,335.68 225.50,333.22 225.75,336.52 228.94,335.43 227.13,338.11" stroke="#000" stroke-width="0.35" fill="#000" />
<polygon points="218.41,359.28 220.94,357.64 218.54,355.11 221.98,355.72 221.86,352.47 224.00,354.84 225.84,352.85 226.12,355.54 229.48,354.77 227.08,357.48 230.06,358.97 226.91,359.61 228.35,362.87 225.37,361.28 224.29,364.43 223.16,360.96 220.14,363.11 221.44,359.75" stroke="#000" stroke-width="0.35" fill="#000" />
<path d="M295.50,67.56 A133.5,133.5 0 0 0 140.40,199.30" stroke="#333" stroke-width="0.9" fill="none" />
<path d="M295.50,71.61 A129.5,129.5 0 0 0 144.40,199.30" stroke="#333" stroke-width="0.9" fill="none" />
<line x1="140.4" y1="199.3" x2="139.2" y2="214" stroke="#333" stroke-width="0.9" />
<line x1="144.4" y1="199.3" x2="144.1" y2="212.6" stroke="#333" stroke-width="0.9" />
<circle cx="173" cy="115.5" r="1.8" stroke="#222" stroke-width="0.6" fill="none"/>
<line x1="138.2" y1="386" x2="137.2" y2="471" stroke="#222" stroke-width="0.8" />
<line x1="141.2" y1="386" x2="141.2" y2="412" stroke="#222" stroke-width="0.7" />
<line x1="295.5" y1="67.2" x2="569" y2="67.2" stroke="#333" stroke-width="0.75" />
<line x1="295.5" y1="71.5" x2="437.5" y2="71.5" stroke="#333" stroke-width="0.75" />
<rect x="295.5" y="67.2" width="4" height="4.5" stroke="#222" stroke-width="0.6" fill="none" />
<rect x="381.5" y="67.2" width="4" height="4.8" stroke="#222" stroke-width="0.6" fill="none" />
<rect x="432.2" y="67.4" width="4.5" height="4.6" stroke="#222" stroke-width="0.6" fill="none" />
<rect x="291.2" y="73.2" width="6" height="44.4" stroke="#222" stroke-width="0.8" fill="none" />
<rect x="292.4" y="74.4" width="4.2" height="7.8" stroke="#222" stroke-width="0.6" fill="none" />
<line x1="299" y1="72" x2="299" y2="96" stroke="#222" stroke-width="0.6" />
<line x1="307.4" y1="72" x2="307.4" y2="96" stroke="#111" stroke-width="1.2" />
<rect x="300.2" y="84" width="4.8" height="6" stroke="#222" stroke-width="0.9" fill="none" />
<rect x="301.6" y="85.6" width="2" height="2.6" stroke="#222" stroke-width="0.5" fill="#222" />
<rect x="298.4" y="91.2" width="3" height="4.2" stroke="#222" stroke-width="0.6" fill="none" />
<rect x="299" y="96" width="9" height="21.6" stroke="#222" stroke-width="0.7" fill="none" />
<circle cx="304.2" cy="106.8" r="4.0" stroke="#111" stroke-width="1.1" fill="none"/>
<circle cx="304.2" cy="106.8" r="1.0" stroke="#222" stroke-width="0.7" fill="none"/>
<line x1="291.2" y1="117.6" x2="313.4" y2="117.6" stroke="#222" stroke-width="0.9" />
<line x1="326" y1="117.6" x2="331.4" y2="117.6" stroke="#222" stroke-width="0.9" />
<circle cx="318.8" cy="90.6" r="9.6" stroke="#222" stroke-width="0.8" fill="none"/>
<rect x="314.2" y="84.5" width="2.2" height="11.5" stroke="#222" stroke-width="0.9" fill="none" />
<rect x="320.8" y="84.5" width="2.2" height="11.5" stroke="#222" stroke-width="0.9" fill="none" />
<line x1="316.4" y1="89" x2="320.8" y2="89" stroke="#222" stroke-width="0.6" />
<line x1="316.4" y1="93" x2="320.8" y2="93" stroke="#222" stroke-width="0.6" />
<line x1="309.2" y1="90.6" x2="312" y2="90.6" stroke="#222" stroke-width="0.5" />
<line x1="325.5" y1="90.6" x2="328.4" y2="90.6" stroke="#222" stroke-width="0.5" />
<line x1="318.8" y1="81" x2="318.8" y2="83.5" stroke="#222" stroke-width="0.5" />
<line x1="318.8" y1="97.5" x2="318.8" y2="100.2" stroke="#222" stroke-width="0.5" />
<path d="M321,74 h6 v4.5 q-1,3 -3,3 q-2,0 -3,-3 z" stroke="#222" stroke-width="1.0" fill="none" />
<line x1="329.6" y1="72" x2="329.6" y2="117.6" stroke="#222" stroke-width="0.8" />
<line x1="331.4" y1="72" x2="331.4" y2="117.6" stroke="#222" stroke-width="0.8" />
<line x1="336.2" y1="72" x2="336.2" y2="117.6" stroke="#222" stroke-width="0.8" />
<path d="M313.4,117.6 A12.6,12.6 0 0 1 326,105 L326,117.6" stroke="#222" stroke-width="0.8" fill="none" />
<path d="M336.2,117.6 A13.2,13.2 0 0 1 349.4,104.4" stroke="#222" stroke-width="0.8" fill="none" />
<rect x="336.5" y="72.5" width="24" height="9" stroke="#222" stroke-width="0.7" fill="none" />
<line x1="336.5" y1="76.8" x2="360.5" y2="76.8" stroke="#222" stroke-width="0.6" />
<line x1="349.5" y1="72.5" x2="349.5" y2="81.5" stroke="#222" stroke-width="0.6" />
<rect x="365.5" y="80" width="12" height="8.5" stroke="#222" stroke-width="0.8" fill="none" />
<rect x="368" y="82" width="8" height="5" stroke="#222" stroke-width="0.6" fill="none" />
<rect x="349.4" y="88.2" width="4.2" height="42" stroke="#222" stroke-width="0.9" fill="none" />
<rect x="350.2" y="86.5" width="2.6" height="2" stroke="#222" stroke-width="0.6" fill="none" />
<rect x="353.6" y="90" width="24" height="36.5" stroke="#222" stroke-width="0.9" fill="none" />
<rect x="355.8" y="95" width="20.2" height="29.5" stroke="#222" stroke-width="0.9" fill="none" />
<rect x="353.8" y="99" width="2" height="6" stroke="#222" stroke-width="0.6" fill="none" />
<rect x="353.8" y="110" width="2" height="3.5" stroke="#222" stroke-width="0.6" fill="#111" />
<rect x="353.8" y="116" width="2" height="6" stroke="#222" stroke-width="0.6" fill="none" />
<line x1="382.2" y1="72" x2="382.2" y2="165" stroke="#222" stroke-width="0.75" />
<line x1="385.0" y1="72" x2="385.0" y2="131" stroke="#222" stroke-width="0.75" />
<rect x="381.5" y="129.5" width="4" height="4" stroke="#222" stroke-width="0.6" fill="none" />
<line x1="385.7" y1="72.7" x2="426.2" y2="72.7" stroke="#222" stroke-width="0.8" />
<line x1="426.5" y1="72.7" x2="426.5" y2="161.6" stroke="#111" stroke-width="1.3" />
<line x1="388" y1="87" x2="406" y2="87" stroke="#222" stroke-width="0.6" />
<line x1="388" y1="90.75" x2="406" y2="90.75" stroke="#222" stroke-width="0.6" />
<line x1="388" y1="94.5" x2="406" y2="94.5" stroke="#222" stroke-width="0.6" />
<line x1="388" y1="98.25" x2="406" y2="98.25" stroke="#222" stroke-width="0.6" />
<line x1="388" y1="102" x2="406" y2="102" stroke="#222" stroke-width="0.6" />
<line x1="388" y1="105.75" x2="406" y2="105.75" stroke="#222" stroke-width="0.6" />
<line x1="388" y1="109.5" x2="406" y2="109.5" stroke="#222" stroke-width="0.6" />
<line x1="388" y1="87" x2="388" y2="109.5" stroke="#222" stroke-width="0.6" />
<line x1="406.7" y1="89" x2="406.7" y2="129" stroke="#222" stroke-width="0.7" />
<line x1="408.2" y1="89.2" x2="424" y2="89.2" stroke="#222" stroke-width="0.6" />
<line x1="408.2" y1="93.2" x2="424" y2="93.2" stroke="#222" stroke-width="0.6" />
<line x1="408.2" y1="97.2" x2="424" y2="97.2" stroke="#222" stroke-width="0.6" />
<line x1="408.2" y1="101.2" x2="424" y2="101.2" stroke="#222" stroke-width="0.6" />
<line x1="408.2" y1="105.2" x2="424" y2="105.2" stroke="#222" stroke-width="0.6" />
<line x1="408.2" y1="109.5" x2="424" y2="109.5" stroke="#222" stroke-width="0.6" />
<line x1="424" y1="89.2" x2="424" y2="109.5" stroke="#222" stroke-width="0.6" />
<line x1="382" y1="104.2" x2="406.7" y2="118.5" stroke="#111" stroke-width="1.0" />
<line x1="384.5" y1="131.2" x2="425.7" y2="131.2" stroke="#222" stroke-width="0.8" />
<line x1="407" y1="120" x2="407" y2="131.2" stroke="#222" stroke-width="0.6" />
<path d="M387.5,131.2 L387.5,141.5 A10.5,10.5 0 0 0 398,131.2" stroke="#222" stroke-width="0.6" fill="none" />
<path d="M425.7,149.5 L425.7,160.5 L415,160.5 A11,11 0 0 1 425.7,149.5" stroke="#222" stroke-width="0.6" fill="none" />
<rect x="384.5" y="164.2" width="42" height="9.8" stroke="#111" stroke-width="1.0" fill="none" />
<line x1="387.5" y1="164.2" x2="387.5" y2="174" stroke="#222" stroke-width="0.8" />
<line x1="395" y1="164.2" x2="395" y2="174" stroke="#222" stroke-width="0.8" />
<line x1="403.2" y1="164.2" x2="403.2" y2="174" stroke="#222" stroke-width="0.8" />
<line x1="410.7" y1="164.2" x2="410.7" y2="174" stroke="#222" stroke-width="0.8" />
<line x1="418.2" y1="164.2" x2="418.2" y2="174" stroke="#222" stroke-width="0.8" />
<line x1="384.5" y1="185.2" x2="426.5" y2="185.2" stroke="#222" stroke-width="0.6" />
<path d="M419.7,177.7 A6,6 0 0 0 425.7,183.5" stroke="#222" stroke-width="0.6" fill="none" />
<line x1="383" y1="129.5" x2="383" y2="165.5" stroke="#111" stroke-width="1.2" />
<line x1="428" y1="72" x2="428" y2="135" stroke="#222" stroke-width="0.7" />
<rect x="432" y="126" width="4" height="4.5" stroke="#222" stroke-width="0.6" fill="none" />
<line x1="436.8" y1="72" x2="436.8" y2="133.8" stroke="#222" stroke-width="0.6" stroke-dasharray="3,1"/>
<line x1="428" y1="133.8" x2="446.4" y2="133.8" stroke="#222" stroke-width="0.7" />
<rect x="426.3" y="164.3" width="20.2" height="30.5" stroke="#222" stroke-width="0.8" fill="none" />
<line x1="435.4" y1="166" x2="435.4" y2="194.8" stroke="#222" stroke-width="0.6" />
<line x1="426.3" y1="177.3" x2="435.4" y2="177.3" stroke="#222" stroke-width="0.6" />
<line x1="426.3" y1="185" x2="435.4" y2="185" stroke="#222" stroke-width="0.6" />
<polyline points="431.00,166.00 431.00,169.50 435.40,169.50" stroke="#222" stroke-width="0.5" fill="none" />
<line x1="569" y1="67.2" x2="571.4" y2="252.1" stroke="#333" stroke-width="0.75" stroke-dasharray="6,1.2"/>
<line x1="436.4" y1="252.1" x2="571.4" y2="252.1" stroke="#333" stroke-width="0.75" />
<rect x="446.2" y="78" width="104" height="45.7" stroke="#222" stroke-width="0.7" fill="none" />
<line x1="449.5" y1="81.7" x2="550" y2="81.7" stroke="#111" stroke-width="1.4" />
<line x1="449.5" y1="81.7" x2="449.5" y2="122.2" stroke="#111" stroke-width="1.4" />
<rect x="463" y="88.5" width="33.7" height="27" stroke="#222" stroke-width="0.8" fill="none" />
<rect x="507.2" y="88.5" width="33.3" height="27.7" stroke="#222" stroke-width="0.8" fill="none" />
<line x1="470" y1="99" x2="478" y2="99" stroke="#444" stroke-width="0.8" />
<line x1="517" y1="99.5" x2="521" y2="99.5" stroke="#444" stroke-width="0.8" />
<line x1="523" y1="99" x2="530" y2="99" stroke="#444" stroke-width="0.8" />
<circle cx="454.3" cy="102.3" r="4" stroke="#222" stroke-width="0.7" fill="none"/>
<circle cx="455.8" cy="119.2" r="2.3" stroke="#222" stroke-width="0.6" fill="none"/>
<circle cx="465.5" cy="120.3" r="2.5" stroke="#222" stroke-width="0.6" fill="none"/>
<line x1="502" y1="112.5" x2="520.7" y2="108.3" stroke="#222" stroke-width="0.8" />
<rect x="501.2" y="78" width="6.8" height="3.7" stroke="#222" stroke-width="0.6" fill="none" />
<line x1="501.8" y1="81.7" x2="501.8" y2="241" stroke="#222" stroke-width="0.65" stroke-dasharray="2,1.4"/>
<line x1="507.2" y1="81.7" x2="507.2" y2="241" stroke="#222" stroke-width="0.65" stroke-dasharray="2,1.4"/>
<rect x="498" y="154.2" width="13.5" height="12" stroke="#222" stroke-width="0.8" fill="none" />
<line x1="480" y1="176" x2="495.7" y2="167" stroke="#222" stroke-width="0.7" />
<line x1="550.2" y1="77.2" x2="550.2" y2="125" stroke="#222" stroke-width="0.7" />
<line x1="561.5" y1="77.2" x2="561.5" y2="190" stroke="#222" stroke-width="0.8" />
<line x1="550.2" y1="77.2" x2="561.5" y2="77.2" stroke="#222" stroke-width="0.7" />
<line x1="551.5" y1="90" x2="560" y2="90" stroke="#222" stroke-width="0.6" />
<line x1="551.5" y1="93" x2="560" y2="93" stroke="#222" stroke-width="0.6" />
<line x1="551.5" y1="96" x2="560" y2="96" stroke="#222" stroke-width="0.6" />
<line x1="551.5" y1="99" x2="560" y2="99" stroke="#222" stroke-width="0.6" />
<line x1="551.5" y1="102" x2="560" y2="102" stroke="#222" stroke-width="0.6" />
<line x1="551.5" y1="105" x2="560" y2="105" stroke="#222" stroke-width="0.6" />
<path d="M552,88 L556,77.2 M552,88 L561,78.5 M552,88 L561.5,83 M552,88 L561.5,87" stroke="#222" stroke-width="0.6" fill="none" />
<line x1="551" y1="123" x2="562" y2="129" stroke="#111" stroke-width="1.2" />
<line x1="551.2" y1="77.2" x2="551.2" y2="139" stroke="#222" stroke-width="0.7" />
<path d="M550,127 l6,-2 l4,6 l-4,8 l-6,-3 z M548,133 l4,-3 l3,5 l-3,3 z" stroke="#222" stroke-width="0.6" fill="none" />
<rect x="562.5" y="142.2" width="7.5" height="26.3" stroke="#222" stroke-width="0.7" fill="none" />
<line x1="563.8" y1="142.2" x2="563.8" y2="168.5" stroke="#111" stroke-width="1.3" />
<rect x="551.2" y="141.5" width="7.5" height="27" stroke="#222" stroke-width="0.7" fill="none" />
<path d="M561.4,169 C561,202 546,228 520.5,234.2" stroke="#222" stroke-width="0.8" fill="none" />
<ellipse cx="552" cy="175" rx="1.8" ry="3" stroke="#333" stroke-width="0.6" fill="none" transform="rotate(20 552 175)"/>
<ellipse cx="557" cy="173.5" rx="2.2" ry="3" stroke="#333" stroke-width="0.6" fill="none" transform="rotate(20 557 173.5)"/>
<polygon points="549.50,183.00 555.00,181.50 556.50,188.00 551.00,189.50" stroke="#222" stroke-width="0.6" fill="none" />
<polygon points="510.00,186.00 514.00,183.00 516.50,187.00 513.00,190.00" stroke="#222" stroke-width="0.7" fill="none" />
<line x1="512.5" y1="188" x2="556.4" y2="214.6" stroke="#222" stroke-width="0.8" />
<line x1="512.5" y1="188" x2="521" y2="235" stroke="#222" stroke-width="0.7" />
<polygon points="551.00,213.00 556.00,210.00 559.00,216.00 554.00,219.00" stroke="#222" stroke-width="0.7" fill="none" />
<polygon points="537.00,229.00 542.00,225.00 546.00,232.00 541.00,235.00" stroke="#222" stroke-width="0.7" fill="none" />
<polygon points="543.00,237.00 551.00,229.00 558.00,236.00 550.00,244.00" stroke="#222" stroke-width="0.7" fill="none" />
<polygon points="547.00,231.00 553.00,226.00 556.00,232.00 551.00,236.00" stroke="#222" stroke-width="0.6" fill="none" />
<rect x="509" y="235" width="10" height="6" stroke="#222" stroke-width="0.6" fill="none" />
<rect x="518" y="235" width="7" height="6" stroke="#222" stroke-width="0.6" fill="none" />
<rect x="528" y="234.5" width="8" height="6.5" stroke="#222" stroke-width="0.6" fill="none" />
<line x1="535" y1="227.5" x2="538" y2="226" stroke="#111" stroke-width="1.2" />
<line x1="445" y1="241.4" x2="564" y2="241.4" stroke="#222" stroke-width="1.3" stroke-dasharray="4,0.8"/>
<line x1="563.8" y1="141" x2="563.8" y2="242.5" stroke="#222" stroke-width="0.7" />
<line x1="445.5" y1="222" x2="445.5" y2="241.4" stroke="#111" stroke-width="1.3" />
<line x1="445" y1="195" x2="445" y2="222" stroke="#222" stroke-width="0.7" stroke-dasharray="1.5,1.2"/>
<rect x="450.4" y="243.3" width="15" height="8.7" stroke="#222" stroke-width="0.7" fill="none" />
<line x1="450.4" y1="247.5" x2="465.4" y2="247.5" stroke="#111" stroke-width="1.2" />
<rect x="480.4" y="243.3" width="15" height="8.7" stroke="#222" stroke-width="0.7" fill="none" />
<line x1="480.4" y1="247.5" x2="495.4" y2="247.5" stroke="#111" stroke-width="1.2" />
<rect x="511.4" y="243.3" width="15" height="8.7" stroke="#222" stroke-width="0.7" fill="none" />
<line x1="511.4" y1="247.5" x2="526.4" y2="247.5" stroke="#111" stroke-width="1.2" />
<rect x="541.4" y="243.3" width="15" height="8.7" stroke="#222" stroke-width="0.7" fill="none" />
<line x1="541.4" y1="247.5" x2="556.4" y2="247.5" stroke="#111" stroke-width="1.2" />
<polygon points="448.40,167.50 495.20,167.50 448.40,192.90" stroke="#222" stroke-width="0.7" fill="none" />
<rect x="426" y="221" width="19.5" height="29.5" stroke="#111" stroke-width="1.1" fill="none" />
<line x1="435.4" y1="223" x2="435.4" y2="250.5" stroke="#222" stroke-width="0.6" />
<rect x="429" y="238.2" width="6.4" height="5" stroke="#222" stroke-width="0.6" fill="none" />
<line x1="445.5" y1="234" x2="501.5" y2="234" stroke="#222" stroke-width="0.6" />
<line x1="300" y1="251.2" x2="436" y2="251.2" stroke="#222" stroke-width="0.7" stroke-dasharray="2,1.5"/>
<path d="M413.8,250.5 A12,12 0 0 1 426,239" stroke="#222" stroke-width="0.6" fill="none" />
<line x1="413.8" y1="250.5" x2="426" y2="250.5" stroke="#111" stroke-width="1.0" />
<polygon points="402.30,216.60 407.40,216.00 428.30,332.60 423.20,333.50" stroke="#222" stroke-width="0.85" fill="#fff" />
<polygon points="404.00,219.00 406.50,218.60 410.00,237.50 407.50,238.00" stroke="#333" stroke-width="0.7" fill="#888" />
<line x1="409.615" y1="257.515" x2="414.615" y2="256.715" stroke="#222" stroke-width="0.6" />
<line x1="415.258" y1="289.078" x2="420.258" y2="288.27799999999996" stroke="#222" stroke-width="0.6" />
<line x1="420.065" y1="315.96500000000003" x2="425.065" y2="315.165" stroke="#222" stroke-width="0.6" />
<path d="M428,333 L458,328 C461,345 450,362 432,368" stroke="#222" stroke-width="0.8" fill="none" stroke-dasharray="3,1.8"/>
<polyline points="292.00,117.60 222.40,114.80 220.00,138.80" stroke="#222" stroke-width="0.7" fill="none" />
<line x1="220" y1="138.8" x2="288.8" y2="140.4" stroke="#111" stroke-width="1.5" />
<line x1="223.0" y1="141" x2="223.0" y2="154.5" stroke="#444" stroke-width="0.7" />
<line x1="225.7" y1="141" x2="225.7" y2="154.5" stroke="#444" stroke-width="0.7" />
<line x1="228.4" y1="141" x2="228.4" y2="154.5" stroke="#444" stroke-width="0.7" />
<line x1="231.1" y1="141" x2="231.1" y2="154.5" stroke="#444" stroke-width="0.7" />
<line x1="233.8" y1="141" x2="233.8" y2="154.5" stroke="#444" stroke-width="0.7" />
<line x1="236.5" y1="141" x2="236.5" y2="154.5" stroke="#444" stroke-width="0.7" />
<line x1="239.2" y1="141" x2="239.2" y2="154.5" stroke="#444" stroke-width="0.7" />
<line x1="241.9" y1="141" x2="241.9" y2="154.5" stroke="#444" stroke-width="0.7" />
<line x1="244.6" y1="141" x2="244.6" y2="154.5" stroke="#444" stroke-width="0.7" />
<line x1="247.3" y1="141" x2="247.3" y2="154.5" stroke="#444" stroke-width="0.7" />
<line x1="250.0" y1="141" x2="250.0" y2="154.5" stroke="#444" stroke-width="0.7" />
<line x1="252.7" y1="141" x2="252.7" y2="154.5" stroke="#444" stroke-width="0.7" />
<line x1="255.4" y1="141" x2="255.4" y2="154.5" stroke="#444" stroke-width="0.7" />
<line x1="258.1" y1="141" x2="258.1" y2="154.5" stroke="#444" stroke-width="0.7" />
<line x1="260.8" y1="141" x2="260.8" y2="154.5" stroke="#444" stroke-width="0.7" />
<line x1="263.5" y1="141" x2="263.5" y2="154.5" stroke="#444" stroke-width="0.7" />
<line x1="266.2" y1="141" x2="266.2" y2="154.5" stroke="#444" stroke-width="0.7" />
<line x1="268.9" y1="141" x2="268.9" y2="154.5" stroke="#444" stroke-width="0.7" />
<line x1="271.6" y1="141" x2="271.6" y2="154.5" stroke="#444" stroke-width="0.7" />
<line x1="274.3" y1="141" x2="274.3" y2="154.5" stroke="#444" stroke-width="0.7" />
<line x1="277.0" y1="141" x2="277.0" y2="154.5" stroke="#444" stroke-width="0.7" />
<line x1="279.7" y1="141" x2="279.7" y2="154.5" stroke="#444" stroke-width="0.7" />
<line x1="282.4" y1="141" x2="282.4" y2="154.5" stroke="#444" stroke-width="0.7" />
<line x1="285.1" y1="141" x2="285.1" y2="154.5" stroke="#444" stroke-width="0.7" />
<line x1="287.8" y1="141" x2="287.8" y2="154.5" stroke="#444" stroke-width="0.7" />
<circle cx="256" cy="134.8" r="18.8" stroke="#222" stroke-width="0.7" fill="none"/>
<circle cx="256" cy="134.8" r="2.0" stroke="#222" stroke-width="0.7" fill="none"/>
<line x1="242.4" y1="135.6" x2="229.6" y2="157.2" stroke="#111" stroke-width="0.9" />
<line x1="153.4" y1="149.6" x2="310" y2="153.4" stroke="#222" stroke-width="0.75" stroke-dasharray="5,1"/>
<line x1="170.6" y1="152.1" x2="310" y2="156.6" stroke="#222" stroke-width="0.75" />
<line x1="153.4" y1="150.6" x2="170.6" y2="151.2" stroke="#111" stroke-width="1.1" />
<line x1="306.5" y1="134.7" x2="306.5" y2="156" stroke="#222" stroke-width="0.8" />
<line x1="220.8" y1="154" x2="220.8" y2="199" stroke="#222" stroke-width="0.7" />
<line x1="224.8" y1="154" x2="224.8" y2="202" stroke="#222" stroke-width="0.7" />
<path d="M158.4,151.5 L158.4,161 A11,11 0 0 0 170,151.8" stroke="#222" stroke-width="0.6" fill="none" />
<line x1="144" y1="212.6" x2="221" y2="197.8" stroke="#222" stroke-width="0.7" />
<line x1="140.6" y1="216.9" x2="224.8" y2="202" stroke="#222" stroke-width="0.7" />
<line x1="170" y1="207.5" x2="191.3" y2="203.4" stroke="#111" stroke-width="1.8" />
<line x1="170" y1="205.5" x2="170" y2="209.5" stroke="#222" stroke-width="0.6" />
<line x1="191.3" y1="201.5" x2="191.3" y2="205.5" stroke="#222" stroke-width="0.6" />
<line x1="221" y1="202" x2="236.5" y2="277" stroke="#222" stroke-width="0.7" />
<line x1="225" y1="202" x2="240.5" y2="277" stroke="#222" stroke-width="0.7" />
<line x1="222.55" y1="209.5" x2="226.55" y2="209.5" stroke="#222" stroke-width="0.6" />
<line x1="227.975" y1="235.75" x2="231.975" y2="235.75" stroke="#222" stroke-width="0.6" />
<line x1="233.4" y1="262.0" x2="237.4" y2="262.0" stroke="#222" stroke-width="0.6" />
<circle cx="236.2" cy="198.6" r="2.6" stroke="#222" stroke-width="0.6" fill="none"/>
<line x1="232.7" y1="198.6" x2="239.7" y2="198.6" stroke="#222" stroke-width="0.5" />
<line x1="236.2" y1="195.1" x2="236.2" y2="202.1" stroke="#222" stroke-width="0.5" />
<circle cx="288.5" cy="198.6" r="2.6" stroke="#222" stroke-width="0.6" fill="none"/>
<line x1="285.0" y1="198.6" x2="292.0" y2="198.6" stroke="#222" stroke-width="0.5" />
<line x1="288.5" y1="195.1" x2="288.5" y2="202.1" stroke="#222" stroke-width="0.5" />
<line x1="228" y1="221.4" x2="298" y2="221.4" stroke="#222" stroke-width="0.6" stroke-dasharray="2,1.5"/>
<line x1="297.4" y1="156.5" x2="297.4" y2="253.8" stroke="#222" stroke-width="0.8" />
<line x1="302.2" y1="156.5" x2="302.2" y2="253.8" stroke="#222" stroke-width="0.8" />
<rect x="302.6" y="155.7" width="8" height="99.7" stroke="#111" stroke-width="1.0" fill="none" />
<line x1="302.6" y1="162.34666666666666" x2="310.6" y2="162.34666666666666" stroke="#111" stroke-width="0.9" />
<line x1="302.6" y1="168.9933333333333" x2="310.6" y2="168.9933333333333" stroke="#111" stroke-width="0.9" />
<line x1="302.6" y1="175.64" x2="310.6" y2="175.64" stroke="#111" stroke-width="0.9" />
<line x1="302.6" y1="182.28666666666666" x2="310.6" y2="182.28666666666666" stroke="#111" stroke-width="0.9" />
<line x1="302.6" y1="188.93333333333334" x2="310.6" y2="188.93333333333334" stroke="#111" stroke-width="0.9" />
<line x1="302.6" y1="195.57999999999998" x2="310.6" y2="195.57999999999998" stroke="#111" stroke-width="0.9" />
<line x1="302.6" y1="202.22666666666666" x2="310.6" y2="202.22666666666666" stroke="#111" stroke-width="0.9" />
<line x1="302.6" y1="208.87333333333333" x2="310.6" y2="208.87333333333333" stroke="#111" stroke-width="0.9" />
<line x1="302.6" y1="215.51999999999998" x2="310.6" y2="215.51999999999998" stroke="#111" stroke-width="0.9" />
<line x1="302.6" y1="222.16666666666666" x2="310.6" y2="222.16666666666666" stroke="#111" stroke-width="0.9" />
<line x1="302.6" y1="228.81333333333333" x2="310.6" y2="228.81333333333333" stroke="#111" stroke-width="0.9" />
<line x1="302.6" y1="235.45999999999998" x2="310.6" y2="235.45999999999998" stroke="#111" stroke-width="0.9" />
<line x1="302.6" y1="242.10666666666668" x2="310.6" y2="242.10666666666668" stroke="#111" stroke-width="0.9" />
<line x1="302.6" y1="248.75333333333333" x2="310.6" y2="248.75333333333333" stroke="#111" stroke-width="0.9" />
<line x1="303.4" y1="241.8" x2="303.4" y2="261" stroke="#111" stroke-width="1.4" />
<rect x="297.8" y="235.8" width="4.4" height="5.2" stroke="#222" stroke-width="0.7" fill="none" />
<rect x="297.8" y="156.5" width="4.4" height="5.2" stroke="#222" stroke-width="0.7" fill="none" />
<rect x="297.8" y="249" width="4.4" height="4.8" stroke="#222" stroke-width="0.7" fill="none" />
<line x1="339.5" y1="165.5" x2="363.5" y2="165.5" stroke="#222" stroke-width="0.6" />
<circle cx="366.8" cy="165.8" r="3" stroke="#222" stroke-width="0.8" fill="none"/>
<line x1="370" y1="165.5" x2="383" y2="165.5" stroke="#111" stroke-width="1.3" />
<path d="M371,160 A11,11 0 0 1 382.2,149" stroke="#222" stroke-width="0.6" fill="none" />
<line x1="382.2" y1="149" x2="382.2" y2="160" stroke="#222" stroke-width="0.6" />
<polygon points="341.70,177.50 340.20,185.00 386.00,195.50 386.70,188.00" stroke="#222" stroke-width="0.9" fill="none" />
<polygon points="363.50,182.00 362.50,187.50 383.50,192.50 384.50,187.00" stroke="#222" stroke-width="0.8" fill="none" />
<polygon points="365.00,183.50 364.50,186.50 381.00,190.50 381.50,187.50" stroke="#111" stroke-width="1.2" fill="#666" />
<line x1="311.7" y1="184.2" x2="340.2" y2="184.2" stroke="#222" stroke-width="0.6" />
<line x1="386.7" y1="164.5" x2="386.7" y2="191" stroke="#222" stroke-width="0.7" />
<line x1="310" y1="250" x2="412.5" y2="250" stroke="#555" stroke-width="0.55" stroke-dasharray="1.6,1.8"/>
<circle cx="367" cy="239.5" r="3.2" stroke="#222" stroke-width="0.7" fill="none"/>
<line x1="310" y1="185" x2="341" y2="185" stroke="#222" stroke-width="0.6" />
<line x1="238" y1="221.4" x2="238" y2="221.4" stroke="#222" stroke-width="0.1" />
<polyline points="268.50,337.20 268.50,253.50 297.40,253.50" stroke="#111" stroke-width="1.5" fill="none" />
<rect x="240.6" y="277.2" width="56.4" height="60" stroke="#222" stroke-width="0.7" fill="none" />
<line x1="253.8" y1="277.2" x2="253.8" y2="337.2" stroke="#222" stroke-width="0.6" />
<line x1="282.6" y1="277.2" x2="282.6" y2="337.2" stroke="#222" stroke-width="0.6" />
<polyline points="240.60,290.40 253.80,277.20 268.20,290.40" stroke="#222" stroke-width="0.7" fill="none" />
<polyline points="269.40,319.20 282.60,337.20 297.00,319.20" stroke="#222" stroke-width="0.7" fill="none" />
<line x1="235.5" y1="277.2" x2="235.5" y2="367" stroke="#222" stroke-width="0.8" />
<line x1="240" y1="277.2" x2="240" y2="366" stroke="#222" stroke-width="0.8" />
<line x1="297.5" y1="277" x2="297.5" y2="355.2" stroke="#222" stroke-width="0.8" />
<line x1="302.9" y1="277" x2="302.9" y2="353.7" stroke="#222" stroke-width="0.8" />
<rect x="297.5" y="277.2" width="5.4" height="4" stroke="#222" stroke-width="0.6" fill="none" />
<rect x="297.5" y="305" width="5.4" height="4" stroke="#222" stroke-width="0.6" fill="none" />
<rect x="297.5" y="329" width="5.4" height="4" stroke="#222" stroke-width="0.6" fill="none" />
<path d="M283.8,357.6 A12,12 0 0 1 294.6,342 L294.6,357" stroke="#222" stroke-width="0.6" fill="none" />
<line x1="303" y1="302" x2="318.5" y2="299" stroke="#111" stroke-width="1.3" />
<line x1="347" y1="293.5" x2="413.8" y2="280" stroke="#111" stroke-width="1.3" />
<line x1="320.5" y1="290" x2="346" y2="302.5" stroke="#111" stroke-width="1.5" />
<line x1="324.5" y1="308" x2="340.5" y2="285" stroke="#111" stroke-width="1.5" />
<path d="M322,287 Q314,298 327.5,310.5" stroke="#111" stroke-width="1.4" fill="none" />
<path d="M337.5,282.5 Q351,290 344,306.5" stroke="#111" stroke-width="1.4" fill="none" />
<path d="M304.5,289.5 Q322,292 318.5,301 Q315,311 309.5,313.5 Z" stroke="#555" stroke-width="0.6" fill="none" />
<path d="M357,279 Q343,284 347,292 Q350,302 361,303.5 Z" stroke="#555" stroke-width="0.6" fill="none" />
<line x1="399.3" y1="476" x2="399.3" y2="486" stroke="#e4e4e4" stroke-width="0.6" />
</g>
<text class="t" x="137" y="486.2">Planta Baixa</text>
</svg></body></html>
